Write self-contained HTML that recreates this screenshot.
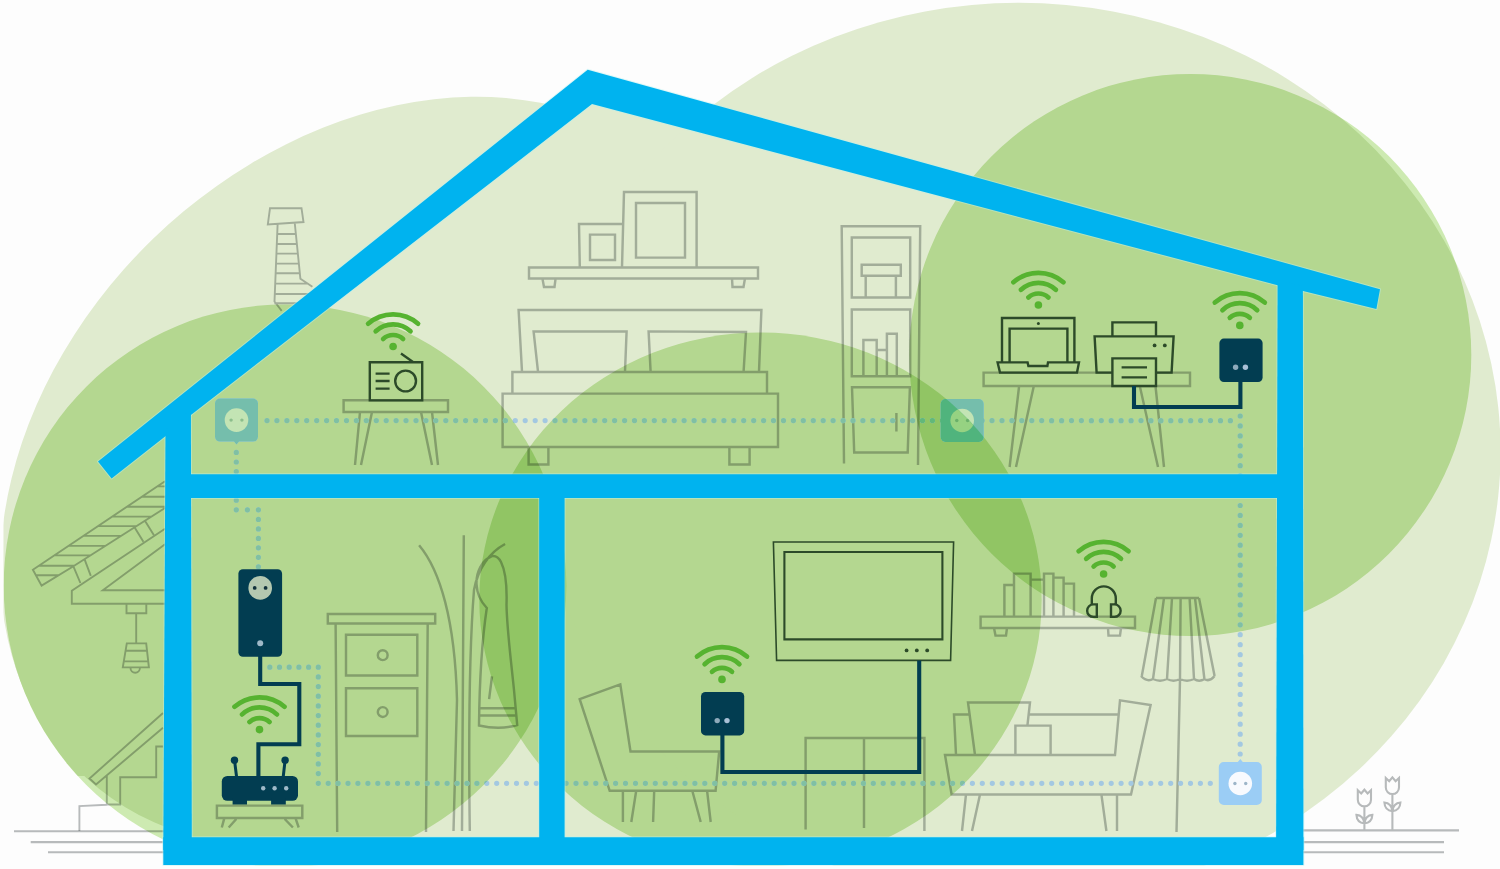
<!DOCTYPE html>
<html lang="en"><head><meta charset="utf-8"><title>Home network illustration</title>
<style>
html,body{margin:0;padding:0;background:#fdfdfd}
body{width:1500px;height:869px}
svg{display:block;isolation:isolate}
</style></head>
<body>
<svg width="1500" height="869" viewBox="0 0 1500 869">
<rect x="0" y="0" width="1500" height="869" fill="#fdfdfd"/>
<g id="bg">
<defs><clipPath id="cCanvas"><rect x="3.5" y="0" width="1497" height="865.6"/></clipPath><clipPath id="cSl"><rect x="0" y="540" width="92" height="236"/></clipPath></defs><g clip-path="url(#cCanvas)">
<ellipse cx="379.2" cy="472.7" rx="423.2" ry="325.3" transform="rotate(135.9 379.2 472.7)" fill="#e0ebcf"/>
<circle cx="285" cy="585.8" r="281.3" fill="#e0ebcf" clip-path="url(#cSl)"/>
<polygon points="177.0,428.0 589.5,88.0 730.0,125.0 730.0,486.0 800.0,486.0 800.0,852.0 177.0,852.0" fill="#e0ebcf"/>
<ellipse cx="1019" cy="451.6" rx="481.6" ry="448.8" fill="#e0ebcf"/>
<circle cx="285" cy="585.8" r="281.3" fill="#cdeab1" style="mix-blend-mode:multiply"/>
<ellipse cx="760.5" cy="599.5" rx="281.2" ry="267" fill="#cdeab1" style="mix-blend-mode:multiply"/>
<circle cx="1190.3" cy="355" r="281" fill="#cdeab1" style="mix-blend-mode:multiply"/>
</g>
</g>
<g id="gray">
<path d="M270.0 208.2 L301.5 208.2 L303.5 222.0 L267.8 224.5Z M277.6 224.5 L274.5 301.5 L281.7 310.8 M294.8 223.5 L300.4 278.8 L312.4 286.8 M277.2 234.0L295.9 234.0 M276.8 244.0L296.9 244.0 M276.4 253.6L297.8 253.6 M276.0 263.6L298.9 263.6 M275.6 273.3L299.8 273.3 M275.2 283.6L307.6 283.6 M274.8 294.0L310.1 294.0 M274.4 303.3L298.5 303.3 M165.0 481.2 L32.9 569.8 L41.6 585.6 L71.8 567.3 L165.0 508.0 M157.2 486.4L165.0 486.4 M141.7 496.8L165.0 496.8 M126.8 506.8L165.0 506.8 M112.2 516.6L151.5 516.6 M98.1 526.1L136.6 526.1 M83.4 535.9L121.2 535.9 M68.5 545.9L105.4 545.9 M54.4 555.4L90.5 555.4 M38.9 565.8L74.2 565.8 M35.9 575.3L58.6 575.3 M73.5 566.7L80.4 583.0 M84.7 559.7L90.8 575.8 M134.8 527.8L143.4 541.8 M145.1 520.9L153.8 535.0 M165.0 528.7 L71.8 590.8 L71.8 603.8 L165.0 603.8 M165.0 590.3 L102.8 590.3 L165.0 544.2 M126.5 603.8H146.3V613.2H126.5Z M136.2 613.2L136.2 643.4 M126.8 643.4 L146.2 643.4 L148.9 667.4 L122.8 667.4Z M125.6 650.7L147.2 650.7 M124.0 661.4L148.2 661.4 M130.5 668A4.7 4.7 0 0 0 139.9 668 M163.0 713.0 L89.5 778.5 L96.0 784.5 L163.0 727.8 M163.0 746.5 L156.2 746.5 L156.2 777.2 L120.2 777.2 L120.2 804.5 L106.8 804.5 L106.8 775.0 M106.8 804.8 L79.4 806.1 L79.4 831.0" fill="none" stroke="#b9bcbd" stroke-width="1.9" stroke-linejoin="miter" style="mix-blend-mode:multiply"/><path d="M14.0 831.3L165.0 831.3 M30.7 842.1L165.0 842.1 M48.0 852.2L165.0 852.2 M1303.0 830.4L1459.0 830.4 M1303.0 842.1L1444.0 842.1 M1303.0 852.2L1444.0 852.2 M1357.8 790.3L1361.2 793.5L1364.4 789.7L1367.6 793.5L1371.0 790.3V799.8A6.6 6.6 0 0 1 1357.8 799.8Z M1364.4 806.5L1364.4 830.0 M1364.4 823.4Q1356.8 822.8 1356.4 814.8Q1363.4 815.4 1364.4 823.4Q1372.0 822.8 1372.4 814.8Q1365.4 815.4 1364.4 823.4 M1385.8 778.0L1389.2 781.2L1392.4 777.4L1395.6 781.2L1399.0 778.0V787.5A6.6 6.6 0 0 1 1385.8 787.5Z M1392.4 794.2L1392.4 830.0 M1392.4 811.1Q1384.8 810.5 1384.4 802.5Q1391.4 803.1 1392.4 811.1Q1400.0 810.5 1400.4 802.5Q1393.4 803.1 1392.4 811.1" fill="none" stroke="#b9bcbd" stroke-width="2.1" style="mix-blend-mode:multiply"/><path d="M343.6 400.2H448.0V412.0H343.6Z M360.0 412.0L355.0 465.0 M372.0 412.0L361.0 465.0 M421.0 412.0L432.0 465.0 M432.0 412.0L438.0 465.0 M529.0 267.4H758.0V278.4H529.0Z M542.4 278.4 L544.0 287.0 L554.5 287.0 L555.6 278.4 M732.0 278.4 L732.5 287.0 L743.5 287.0 L745.0 278.4 M622.0 267.4 L624.0 192.0 L696.6 192.0 L696.6 267.4 M636.0 203.0H685.0V257.6H636.0Z M579.8 267.4 L579.0 224.0 L623.0 224.0 M590.0 234.6H615.0V260.0H590.0Z M522.0 371.6 L518.6 310.0 L761.4 310.0 L759.0 371.6 M538.0 371.6 L533.6 331.4 L626.6 331.4 L625.0 371.6 M650.6 371.6 L648.6 331.4 L746.0 332.0 L743.6 371.6 M512.4 372.0H767.0V393.6H512.4Z M502.6 393.6H778.0V447.0H502.6Z M528.6 447.0 L528.6 464.4 L548.4 464.4 L548.4 447.0 M729.4 447.0 L729.4 464.4 L749.6 464.4 L749.6 447.0 M844.0 463.5 L841.7 226.3 L920.2 226.3 L918.0 465.0 M851.8 237.4H910.2V297.5H851.8Z M861.7 264.7H900.8V275.7H861.7Z M865.7 275.7 L865.7 297.0 M895.9 275.7L895.9 297.0 M851.8 309.5H910.2V376.3H851.8Z M863.4 376.3 L863.4 340.0 L876.7 340.0 L876.7 376.3 M876.7 349.9 L886.9 349.9 M886.9 376.3 L886.9 333.7 L896.8 333.7 L896.8 376.3 M852.0 387.3 L909.9 387.3 L907.7 452.4 L854.2 452.4Z M896.4 412.9L896.4 431.6 M983.6 372.6H1190.0V386.0H983.6Z M1019.0 387.0L1009.6 467.0 M1033.6 387.0L1016.0 467.0 M1140.0 387.0L1158.0 467.0 M1155.6 387.0L1164.0 467.0" fill="none" stroke="#b9bcbd" stroke-width="2.45" stroke-linejoin="miter" style="mix-blend-mode:multiply"/>
</g>
<g id="gray2">
<path d="M216.9 805.6H302.3V817.9H216.9Z M224.4 817.9L221.8 827.5 M236.3 819.0L228.7 827.5 M284.7 819.0L292.9 827.5 M295.4 817.9L298.7 827.5 M327.8 614.0H435.2V623.5H327.8Z M335.6 623.5L337.2 832.0 M427.7 623.5L426.0 832.0 M346.0 634.8H417.3V675.5H346.0Z M346.0 688.2H417.3V736.0H346.0Z M387.6 655.2A4.9 4.9 0 1 0 377.8 655.2A4.9 4.9 0 1 0 387.6 655.2Z M387.6 712A4.9 4.9 0 1 0 377.8 712A4.9 4.9 0 1 0 387.6 712Z M463.8 535.3L462.0 831.0 M419.1 545.2C440 570 455 620 457 700L453.5 831 M505.1 544C490 552 478 568 474 590C470 640 468 700 469.8 831 M492 556C482 560 476 572 476.5 584C477 594 481 602 486.8 608C482 640 479.5 680 479 725.5C492 728.5 506 728.5 517.2 725L514 690C511 660 507 630 506.5 605C507 590 506 572 501 562C498.5 557 495.5 555.5 492 556Z M479.2 708.2L516.0 708.2 M479.1 715.5L516.6 715.5 M492.0 676.4L489.1 699.1 M579.7 699.2 L620.3 684.3 L630.5 751.4 L719.2 751.4 L715.6 790.8 L609.7 790.8Z M622.9 790.8L622.9 822.0 M636.2 790.8L631.3 822.0 M654.2 790.8L653.1 822.0 M692.3 790.8L700.7 822.0 M707.1 790.8L710.7 822.0 M805.6 829.5 L805.6 738.0 L924.4 738.0 L924.4 831.0 M864.0 738.0L864.0 828.0 M980.6 616.6H1135.0V628.0H980.6Z M994.0 628.0 L995.5 635.6 L1006.0 635.6 L1007.0 628.0 M1108.0 628.0 L1108.5 635.6 L1120.0 635.6 L1121.0 628.0 M1004.4 616.6 L1004.4 585.0 L1014.0 585.0 L1014.0 616.6 M1014.0 616.6 L1014.0 573.6 L1030.6 573.6 L1030.6 616.6 M1030.6 616.6 L1030.6 579.6 L1044.0 579.6 L1044.0 616.6 M1044.0 616.6 L1044.0 573.6 L1053.4 573.6 L1053.4 616.6 M1053.4 616.6 L1053.4 577.6 L1063.6 577.6 L1063.6 616.6 M1063.6 616.6 L1063.6 583.6 L1074.0 583.6 L1074.0 616.6 M945.0 755.0 L951.6 794.4 L1131.0 794.4 L1150.6 705.0 L1120.0 700.4 L1115.0 755.0Z M1028.0 714.4L1118.6 714.4 M975.0 755.0 L968.0 702.4 L1030.0 702.4 L1027.4 725.6 M956.0 755.0 L954.0 714.4 L969.6 714.4 M1015.4 725.6H1050.6V755.0H1015.4Z M966.0 794.4L962.0 831.0 M980.0 794.4L972.0 831.0 M1101.4 794.4L1106.4 831.0 M1117.0 794.4L1117.0 831.0 M1156.0 598.0L1199.0 598.0 M1156.0 598.0L1141.8 676.0 M1199.0 598.0L1214.6 676.0 M1164.0 598.0L1153.0 679.0 M1172.0 598.0L1167.0 679.0 M1180.6 598.0L1180.0 679.0 M1189.6 598.0L1194.0 679.0 M1195.0 598.0L1204.4 679.0 M1141 676Q1147.0 682.3 1153 679Q1160.0 682.3 1167 679Q1173.5 682.3 1180 679Q1187.0 682.3 1194 679Q1199.2 682.3 1204.4 679Q1209.5 682.3 1214.6 676 M1180.0 680.0L1176.5 832.0" fill="none" stroke="#b9bcbd" stroke-width="2.45" stroke-linejoin="miter" style="mix-blend-mode:multiply"/>
</g>
<g id="dots">
<defs><clipPath id="cDark"><circle cx="285" cy="585.8" r="281.3"/><ellipse cx="760.5" cy="599.5" rx="281.2" ry="267"/><circle cx="1190.3" cy="355" r="281"/></clipPath><clipPath id="cCen"><ellipse cx="760.5" cy="599.5" rx="281.2" ry="267"/></clipPath><clipPath id="cLR"><circle cx="285" cy="585.8" r="281.3"/><circle cx="1190.3" cy="355" r="281"/></clipPath></defs>
<g><path d="M264.4 420.6a2.6 2.6 0 1 0 5.2 0a2.6 2.6 0 1 0 -5.2 0ZM274.3 420.6a2.6 2.6 0 1 0 5.2 0a2.6 2.6 0 1 0 -5.2 0ZM284.3 420.6a2.6 2.6 0 1 0 5.2 0a2.6 2.6 0 1 0 -5.2 0ZM294.2 420.6a2.6 2.6 0 1 0 5.2 0a2.6 2.6 0 1 0 -5.2 0ZM304.1 420.6a2.6 2.6 0 1 0 5.2 0a2.6 2.6 0 1 0 -5.2 0ZM314.1 420.6a2.6 2.6 0 1 0 5.2 0a2.6 2.6 0 1 0 -5.2 0ZM324.0 420.6a2.6 2.6 0 1 0 5.2 0a2.6 2.6 0 1 0 -5.2 0ZM333.9 420.6a2.6 2.6 0 1 0 5.2 0a2.6 2.6 0 1 0 -5.2 0ZM343.9 420.6a2.6 2.6 0 1 0 5.2 0a2.6 2.6 0 1 0 -5.2 0ZM353.8 420.6a2.6 2.6 0 1 0 5.2 0a2.6 2.6 0 1 0 -5.2 0ZM363.7 420.6a2.6 2.6 0 1 0 5.2 0a2.6 2.6 0 1 0 -5.2 0ZM373.7 420.6a2.6 2.6 0 1 0 5.2 0a2.6 2.6 0 1 0 -5.2 0ZM383.6 420.6a2.6 2.6 0 1 0 5.2 0a2.6 2.6 0 1 0 -5.2 0ZM393.5 420.6a2.6 2.6 0 1 0 5.2 0a2.6 2.6 0 1 0 -5.2 0ZM403.4 420.6a2.6 2.6 0 1 0 5.2 0a2.6 2.6 0 1 0 -5.2 0ZM413.4 420.6a2.6 2.6 0 1 0 5.2 0a2.6 2.6 0 1 0 -5.2 0ZM423.3 420.6a2.6 2.6 0 1 0 5.2 0a2.6 2.6 0 1 0 -5.2 0ZM433.2 420.6a2.6 2.6 0 1 0 5.2 0a2.6 2.6 0 1 0 -5.2 0ZM443.2 420.6a2.6 2.6 0 1 0 5.2 0a2.6 2.6 0 1 0 -5.2 0ZM453.1 420.6a2.6 2.6 0 1 0 5.2 0a2.6 2.6 0 1 0 -5.2 0ZM463.0 420.6a2.6 2.6 0 1 0 5.2 0a2.6 2.6 0 1 0 -5.2 0ZM473.0 420.6a2.6 2.6 0 1 0 5.2 0a2.6 2.6 0 1 0 -5.2 0ZM482.9 420.6a2.6 2.6 0 1 0 5.2 0a2.6 2.6 0 1 0 -5.2 0ZM492.8 420.6a2.6 2.6 0 1 0 5.2 0a2.6 2.6 0 1 0 -5.2 0ZM502.8 420.6a2.6 2.6 0 1 0 5.2 0a2.6 2.6 0 1 0 -5.2 0ZM512.7 420.6a2.6 2.6 0 1 0 5.2 0a2.6 2.6 0 1 0 -5.2 0ZM522.6 420.6a2.6 2.6 0 1 0 5.2 0a2.6 2.6 0 1 0 -5.2 0ZM532.6 420.6a2.6 2.6 0 1 0 5.2 0a2.6 2.6 0 1 0 -5.2 0ZM542.5 420.6a2.6 2.6 0 1 0 5.2 0a2.6 2.6 0 1 0 -5.2 0ZM552.4 420.6a2.6 2.6 0 1 0 5.2 0a2.6 2.6 0 1 0 -5.2 0ZM562.4 420.6a2.6 2.6 0 1 0 5.2 0a2.6 2.6 0 1 0 -5.2 0ZM572.3 420.6a2.6 2.6 0 1 0 5.2 0a2.6 2.6 0 1 0 -5.2 0ZM582.2 420.6a2.6 2.6 0 1 0 5.2 0a2.6 2.6 0 1 0 -5.2 0ZM592.2 420.6a2.6 2.6 0 1 0 5.2 0a2.6 2.6 0 1 0 -5.2 0ZM602.1 420.6a2.6 2.6 0 1 0 5.2 0a2.6 2.6 0 1 0 -5.2 0ZM612.0 420.6a2.6 2.6 0 1 0 5.2 0a2.6 2.6 0 1 0 -5.2 0ZM622.0 420.6a2.6 2.6 0 1 0 5.2 0a2.6 2.6 0 1 0 -5.2 0ZM631.9 420.6a2.6 2.6 0 1 0 5.2 0a2.6 2.6 0 1 0 -5.2 0ZM641.8 420.6a2.6 2.6 0 1 0 5.2 0a2.6 2.6 0 1 0 -5.2 0ZM651.7 420.6a2.6 2.6 0 1 0 5.2 0a2.6 2.6 0 1 0 -5.2 0ZM661.7 420.6a2.6 2.6 0 1 0 5.2 0a2.6 2.6 0 1 0 -5.2 0ZM671.6 420.6a2.6 2.6 0 1 0 5.2 0a2.6 2.6 0 1 0 -5.2 0ZM681.5 420.6a2.6 2.6 0 1 0 5.2 0a2.6 2.6 0 1 0 -5.2 0ZM691.5 420.6a2.6 2.6 0 1 0 5.2 0a2.6 2.6 0 1 0 -5.2 0ZM701.4 420.6a2.6 2.6 0 1 0 5.2 0a2.6 2.6 0 1 0 -5.2 0ZM711.3 420.6a2.6 2.6 0 1 0 5.2 0a2.6 2.6 0 1 0 -5.2 0ZM721.3 420.6a2.6 2.6 0 1 0 5.2 0a2.6 2.6 0 1 0 -5.2 0ZM731.2 420.6a2.6 2.6 0 1 0 5.2 0a2.6 2.6 0 1 0 -5.2 0ZM741.1 420.6a2.6 2.6 0 1 0 5.2 0a2.6 2.6 0 1 0 -5.2 0ZM751.1 420.6a2.6 2.6 0 1 0 5.2 0a2.6 2.6 0 1 0 -5.2 0ZM761.0 420.6a2.6 2.6 0 1 0 5.2 0a2.6 2.6 0 1 0 -5.2 0ZM770.9 420.6a2.6 2.6 0 1 0 5.2 0a2.6 2.6 0 1 0 -5.2 0ZM780.9 420.6a2.6 2.6 0 1 0 5.2 0a2.6 2.6 0 1 0 -5.2 0ZM790.8 420.6a2.6 2.6 0 1 0 5.2 0a2.6 2.6 0 1 0 -5.2 0ZM800.7 420.6a2.6 2.6 0 1 0 5.2 0a2.6 2.6 0 1 0 -5.2 0ZM810.7 420.6a2.6 2.6 0 1 0 5.2 0a2.6 2.6 0 1 0 -5.2 0ZM820.6 420.6a2.6 2.6 0 1 0 5.2 0a2.6 2.6 0 1 0 -5.2 0ZM830.5 420.6a2.6 2.6 0 1 0 5.2 0a2.6 2.6 0 1 0 -5.2 0ZM840.5 420.6a2.6 2.6 0 1 0 5.2 0a2.6 2.6 0 1 0 -5.2 0ZM850.4 420.6a2.6 2.6 0 1 0 5.2 0a2.6 2.6 0 1 0 -5.2 0ZM860.3 420.6a2.6 2.6 0 1 0 5.2 0a2.6 2.6 0 1 0 -5.2 0ZM870.2 420.6a2.6 2.6 0 1 0 5.2 0a2.6 2.6 0 1 0 -5.2 0ZM880.2 420.6a2.6 2.6 0 1 0 5.2 0a2.6 2.6 0 1 0 -5.2 0ZM890.1 420.6a2.6 2.6 0 1 0 5.2 0a2.6 2.6 0 1 0 -5.2 0ZM900.0 420.6a2.6 2.6 0 1 0 5.2 0a2.6 2.6 0 1 0 -5.2 0ZM910.0 420.6a2.6 2.6 0 1 0 5.2 0a2.6 2.6 0 1 0 -5.2 0ZM919.9 420.6a2.6 2.6 0 1 0 5.2 0a2.6 2.6 0 1 0 -5.2 0ZM929.8 420.6a2.6 2.6 0 1 0 5.2 0a2.6 2.6 0 1 0 -5.2 0ZM939.8 420.6a2.6 2.6 0 1 0 5.2 0a2.6 2.6 0 1 0 -5.2 0ZM949.7 420.6a2.6 2.6 0 1 0 5.2 0a2.6 2.6 0 1 0 -5.2 0ZM959.6 420.6a2.6 2.6 0 1 0 5.2 0a2.6 2.6 0 1 0 -5.2 0ZM969.6 420.6a2.6 2.6 0 1 0 5.2 0a2.6 2.6 0 1 0 -5.2 0ZM979.5 420.6a2.6 2.6 0 1 0 5.2 0a2.6 2.6 0 1 0 -5.2 0ZM989.4 420.6a2.6 2.6 0 1 0 5.2 0a2.6 2.6 0 1 0 -5.2 0ZM999.4 420.6a2.6 2.6 0 1 0 5.2 0a2.6 2.6 0 1 0 -5.2 0ZM1009.3 420.6a2.6 2.6 0 1 0 5.2 0a2.6 2.6 0 1 0 -5.2 0ZM1019.2 420.6a2.6 2.6 0 1 0 5.2 0a2.6 2.6 0 1 0 -5.2 0ZM1029.2 420.6a2.6 2.6 0 1 0 5.2 0a2.6 2.6 0 1 0 -5.2 0ZM1039.1 420.6a2.6 2.6 0 1 0 5.2 0a2.6 2.6 0 1 0 -5.2 0ZM1049.0 420.6a2.6 2.6 0 1 0 5.2 0a2.6 2.6 0 1 0 -5.2 0ZM1059.0 420.6a2.6 2.6 0 1 0 5.2 0a2.6 2.6 0 1 0 -5.2 0ZM1068.9 420.6a2.6 2.6 0 1 0 5.2 0a2.6 2.6 0 1 0 -5.2 0ZM1078.8 420.6a2.6 2.6 0 1 0 5.2 0a2.6 2.6 0 1 0 -5.2 0ZM1088.8 420.6a2.6 2.6 0 1 0 5.2 0a2.6 2.6 0 1 0 -5.2 0ZM1098.7 420.6a2.6 2.6 0 1 0 5.2 0a2.6 2.6 0 1 0 -5.2 0ZM1108.6 420.6a2.6 2.6 0 1 0 5.2 0a2.6 2.6 0 1 0 -5.2 0ZM1118.5 420.6a2.6 2.6 0 1 0 5.2 0a2.6 2.6 0 1 0 -5.2 0ZM1128.5 420.6a2.6 2.6 0 1 0 5.2 0a2.6 2.6 0 1 0 -5.2 0ZM1138.4 420.6a2.6 2.6 0 1 0 5.2 0a2.6 2.6 0 1 0 -5.2 0ZM1148.3 420.6a2.6 2.6 0 1 0 5.2 0a2.6 2.6 0 1 0 -5.2 0ZM1158.3 420.6a2.6 2.6 0 1 0 5.2 0a2.6 2.6 0 1 0 -5.2 0ZM1168.2 420.6a2.6 2.6 0 1 0 5.2 0a2.6 2.6 0 1 0 -5.2 0ZM1178.1 420.6a2.6 2.6 0 1 0 5.2 0a2.6 2.6 0 1 0 -5.2 0ZM1188.1 420.6a2.6 2.6 0 1 0 5.2 0a2.6 2.6 0 1 0 -5.2 0ZM1198.0 420.6a2.6 2.6 0 1 0 5.2 0a2.6 2.6 0 1 0 -5.2 0ZM1207.9 420.6a2.6 2.6 0 1 0 5.2 0a2.6 2.6 0 1 0 -5.2 0ZM1217.9 420.6a2.6 2.6 0 1 0 5.2 0a2.6 2.6 0 1 0 -5.2 0ZM1227.8 420.6a2.6 2.6 0 1 0 5.2 0a2.6 2.6 0 1 0 -5.2 0ZM1237.6 416.0a2.6 2.6 0 1 0 5.2 0a2.6 2.6 0 1 0 -5.2 0ZM1237.6 425.9a2.6 2.6 0 1 0 5.2 0a2.6 2.6 0 1 0 -5.2 0ZM1237.6 435.9a2.6 2.6 0 1 0 5.2 0a2.6 2.6 0 1 0 -5.2 0ZM1237.6 445.8a2.6 2.6 0 1 0 5.2 0a2.6 2.6 0 1 0 -5.2 0ZM1237.6 455.8a2.6 2.6 0 1 0 5.2 0a2.6 2.6 0 1 0 -5.2 0ZM1237.6 465.7a2.6 2.6 0 1 0 5.2 0a2.6 2.6 0 1 0 -5.2 0ZM1237.6 475.6a2.6 2.6 0 1 0 5.2 0a2.6 2.6 0 1 0 -5.2 0ZM1237.6 485.6a2.6 2.6 0 1 0 5.2 0a2.6 2.6 0 1 0 -5.2 0ZM1237.6 495.5a2.6 2.6 0 1 0 5.2 0a2.6 2.6 0 1 0 -5.2 0ZM1237.6 505.5a2.6 2.6 0 1 0 5.2 0a2.6 2.6 0 1 0 -5.2 0ZM1237.6 515.4a2.6 2.6 0 1 0 5.2 0a2.6 2.6 0 1 0 -5.2 0ZM1237.6 525.4a2.6 2.6 0 1 0 5.2 0a2.6 2.6 0 1 0 -5.2 0ZM1237.6 535.3a2.6 2.6 0 1 0 5.2 0a2.6 2.6 0 1 0 -5.2 0ZM1237.6 545.2a2.6 2.6 0 1 0 5.2 0a2.6 2.6 0 1 0 -5.2 0ZM1237.6 555.2a2.6 2.6 0 1 0 5.2 0a2.6 2.6 0 1 0 -5.2 0ZM1237.6 565.1a2.6 2.6 0 1 0 5.2 0a2.6 2.6 0 1 0 -5.2 0ZM1237.6 575.1a2.6 2.6 0 1 0 5.2 0a2.6 2.6 0 1 0 -5.2 0ZM1237.6 585.0a2.6 2.6 0 1 0 5.2 0a2.6 2.6 0 1 0 -5.2 0ZM1237.6 594.9a2.6 2.6 0 1 0 5.2 0a2.6 2.6 0 1 0 -5.2 0ZM1237.6 604.9a2.6 2.6 0 1 0 5.2 0a2.6 2.6 0 1 0 -5.2 0ZM1237.6 614.8a2.6 2.6 0 1 0 5.2 0a2.6 2.6 0 1 0 -5.2 0ZM1237.6 624.8a2.6 2.6 0 1 0 5.2 0a2.6 2.6 0 1 0 -5.2 0ZM1237.6 634.7a2.6 2.6 0 1 0 5.2 0a2.6 2.6 0 1 0 -5.2 0ZM1237.6 644.6a2.6 2.6 0 1 0 5.2 0a2.6 2.6 0 1 0 -5.2 0ZM1237.6 654.6a2.6 2.6 0 1 0 5.2 0a2.6 2.6 0 1 0 -5.2 0ZM1237.6 664.5a2.6 2.6 0 1 0 5.2 0a2.6 2.6 0 1 0 -5.2 0ZM1237.6 674.5a2.6 2.6 0 1 0 5.2 0a2.6 2.6 0 1 0 -5.2 0ZM1237.6 684.4a2.6 2.6 0 1 0 5.2 0a2.6 2.6 0 1 0 -5.2 0ZM1237.6 694.4a2.6 2.6 0 1 0 5.2 0a2.6 2.6 0 1 0 -5.2 0ZM1237.6 704.3a2.6 2.6 0 1 0 5.2 0a2.6 2.6 0 1 0 -5.2 0ZM1237.6 714.2a2.6 2.6 0 1 0 5.2 0a2.6 2.6 0 1 0 -5.2 0ZM1237.6 724.2a2.6 2.6 0 1 0 5.2 0a2.6 2.6 0 1 0 -5.2 0ZM1237.6 734.1a2.6 2.6 0 1 0 5.2 0a2.6 2.6 0 1 0 -5.2 0ZM1237.6 744.1a2.6 2.6 0 1 0 5.2 0a2.6 2.6 0 1 0 -5.2 0ZM1237.6 754.0a2.6 2.6 0 1 0 5.2 0a2.6 2.6 0 1 0 -5.2 0ZM315.7 783.3a2.6 2.6 0 1 0 5.2 0a2.6 2.6 0 1 0 -5.2 0ZM325.6 783.3a2.6 2.6 0 1 0 5.2 0a2.6 2.6 0 1 0 -5.2 0ZM335.5 783.3a2.6 2.6 0 1 0 5.2 0a2.6 2.6 0 1 0 -5.2 0ZM345.4 783.3a2.6 2.6 0 1 0 5.2 0a2.6 2.6 0 1 0 -5.2 0ZM355.3 783.3a2.6 2.6 0 1 0 5.2 0a2.6 2.6 0 1 0 -5.2 0ZM365.3 783.3a2.6 2.6 0 1 0 5.2 0a2.6 2.6 0 1 0 -5.2 0ZM375.2 783.3a2.6 2.6 0 1 0 5.2 0a2.6 2.6 0 1 0 -5.2 0ZM385.1 783.3a2.6 2.6 0 1 0 5.2 0a2.6 2.6 0 1 0 -5.2 0ZM395.0 783.3a2.6 2.6 0 1 0 5.2 0a2.6 2.6 0 1 0 -5.2 0ZM404.9 783.3a2.6 2.6 0 1 0 5.2 0a2.6 2.6 0 1 0 -5.2 0ZM414.8 783.3a2.6 2.6 0 1 0 5.2 0a2.6 2.6 0 1 0 -5.2 0ZM424.7 783.3a2.6 2.6 0 1 0 5.2 0a2.6 2.6 0 1 0 -5.2 0ZM434.6 783.3a2.6 2.6 0 1 0 5.2 0a2.6 2.6 0 1 0 -5.2 0ZM444.5 783.3a2.6 2.6 0 1 0 5.2 0a2.6 2.6 0 1 0 -5.2 0ZM454.5 783.3a2.6 2.6 0 1 0 5.2 0a2.6 2.6 0 1 0 -5.2 0ZM464.4 783.3a2.6 2.6 0 1 0 5.2 0a2.6 2.6 0 1 0 -5.2 0ZM474.3 783.3a2.6 2.6 0 1 0 5.2 0a2.6 2.6 0 1 0 -5.2 0ZM484.2 783.3a2.6 2.6 0 1 0 5.2 0a2.6 2.6 0 1 0 -5.2 0ZM494.1 783.3a2.6 2.6 0 1 0 5.2 0a2.6 2.6 0 1 0 -5.2 0ZM504.0 783.3a2.6 2.6 0 1 0 5.2 0a2.6 2.6 0 1 0 -5.2 0ZM513.9 783.3a2.6 2.6 0 1 0 5.2 0a2.6 2.6 0 1 0 -5.2 0ZM523.8 783.3a2.6 2.6 0 1 0 5.2 0a2.6 2.6 0 1 0 -5.2 0ZM533.7 783.3a2.6 2.6 0 1 0 5.2 0a2.6 2.6 0 1 0 -5.2 0ZM543.7 783.3a2.6 2.6 0 1 0 5.2 0a2.6 2.6 0 1 0 -5.2 0ZM553.6 783.3a2.6 2.6 0 1 0 5.2 0a2.6 2.6 0 1 0 -5.2 0ZM563.5 783.3a2.6 2.6 0 1 0 5.2 0a2.6 2.6 0 1 0 -5.2 0ZM573.4 783.3a2.6 2.6 0 1 0 5.2 0a2.6 2.6 0 1 0 -5.2 0ZM583.3 783.3a2.6 2.6 0 1 0 5.2 0a2.6 2.6 0 1 0 -5.2 0ZM593.2 783.3a2.6 2.6 0 1 0 5.2 0a2.6 2.6 0 1 0 -5.2 0ZM603.1 783.3a2.6 2.6 0 1 0 5.2 0a2.6 2.6 0 1 0 -5.2 0ZM613.0 783.3a2.6 2.6 0 1 0 5.2 0a2.6 2.6 0 1 0 -5.2 0ZM622.9 783.3a2.6 2.6 0 1 0 5.2 0a2.6 2.6 0 1 0 -5.2 0ZM632.9 783.3a2.6 2.6 0 1 0 5.2 0a2.6 2.6 0 1 0 -5.2 0ZM642.8 783.3a2.6 2.6 0 1 0 5.2 0a2.6 2.6 0 1 0 -5.2 0ZM652.7 783.3a2.6 2.6 0 1 0 5.2 0a2.6 2.6 0 1 0 -5.2 0ZM662.6 783.3a2.6 2.6 0 1 0 5.2 0a2.6 2.6 0 1 0 -5.2 0ZM672.5 783.3a2.6 2.6 0 1 0 5.2 0a2.6 2.6 0 1 0 -5.2 0ZM682.4 783.3a2.6 2.6 0 1 0 5.2 0a2.6 2.6 0 1 0 -5.2 0ZM692.3 783.3a2.6 2.6 0 1 0 5.2 0a2.6 2.6 0 1 0 -5.2 0ZM702.2 783.3a2.6 2.6 0 1 0 5.2 0a2.6 2.6 0 1 0 -5.2 0ZM712.1 783.3a2.6 2.6 0 1 0 5.2 0a2.6 2.6 0 1 0 -5.2 0ZM722.1 783.3a2.6 2.6 0 1 0 5.2 0a2.6 2.6 0 1 0 -5.2 0ZM732.0 783.3a2.6 2.6 0 1 0 5.2 0a2.6 2.6 0 1 0 -5.2 0ZM741.9 783.3a2.6 2.6 0 1 0 5.2 0a2.6 2.6 0 1 0 -5.2 0ZM751.8 783.3a2.6 2.6 0 1 0 5.2 0a2.6 2.6 0 1 0 -5.2 0ZM761.7 783.3a2.6 2.6 0 1 0 5.2 0a2.6 2.6 0 1 0 -5.2 0ZM771.6 783.3a2.6 2.6 0 1 0 5.2 0a2.6 2.6 0 1 0 -5.2 0ZM781.5 783.3a2.6 2.6 0 1 0 5.2 0a2.6 2.6 0 1 0 -5.2 0ZM791.4 783.3a2.6 2.6 0 1 0 5.2 0a2.6 2.6 0 1 0 -5.2 0ZM801.3 783.3a2.6 2.6 0 1 0 5.2 0a2.6 2.6 0 1 0 -5.2 0ZM811.3 783.3a2.6 2.6 0 1 0 5.2 0a2.6 2.6 0 1 0 -5.2 0ZM821.2 783.3a2.6 2.6 0 1 0 5.2 0a2.6 2.6 0 1 0 -5.2 0ZM831.1 783.3a2.6 2.6 0 1 0 5.2 0a2.6 2.6 0 1 0 -5.2 0ZM841.0 783.3a2.6 2.6 0 1 0 5.2 0a2.6 2.6 0 1 0 -5.2 0ZM850.9 783.3a2.6 2.6 0 1 0 5.2 0a2.6 2.6 0 1 0 -5.2 0ZM860.8 783.3a2.6 2.6 0 1 0 5.2 0a2.6 2.6 0 1 0 -5.2 0ZM870.7 783.3a2.6 2.6 0 1 0 5.2 0a2.6 2.6 0 1 0 -5.2 0ZM880.6 783.3a2.6 2.6 0 1 0 5.2 0a2.6 2.6 0 1 0 -5.2 0ZM890.5 783.3a2.6 2.6 0 1 0 5.2 0a2.6 2.6 0 1 0 -5.2 0ZM900.5 783.3a2.6 2.6 0 1 0 5.2 0a2.6 2.6 0 1 0 -5.2 0ZM910.4 783.3a2.6 2.6 0 1 0 5.2 0a2.6 2.6 0 1 0 -5.2 0ZM920.3 783.3a2.6 2.6 0 1 0 5.2 0a2.6 2.6 0 1 0 -5.2 0ZM930.2 783.3a2.6 2.6 0 1 0 5.2 0a2.6 2.6 0 1 0 -5.2 0ZM940.1 783.3a2.6 2.6 0 1 0 5.2 0a2.6 2.6 0 1 0 -5.2 0ZM950.0 783.3a2.6 2.6 0 1 0 5.2 0a2.6 2.6 0 1 0 -5.2 0ZM959.9 783.3a2.6 2.6 0 1 0 5.2 0a2.6 2.6 0 1 0 -5.2 0ZM969.8 783.3a2.6 2.6 0 1 0 5.2 0a2.6 2.6 0 1 0 -5.2 0ZM979.7 783.3a2.6 2.6 0 1 0 5.2 0a2.6 2.6 0 1 0 -5.2 0ZM989.7 783.3a2.6 2.6 0 1 0 5.2 0a2.6 2.6 0 1 0 -5.2 0ZM999.6 783.3a2.6 2.6 0 1 0 5.2 0a2.6 2.6 0 1 0 -5.2 0ZM1009.5 783.3a2.6 2.6 0 1 0 5.2 0a2.6 2.6 0 1 0 -5.2 0ZM1019.4 783.3a2.6 2.6 0 1 0 5.2 0a2.6 2.6 0 1 0 -5.2 0ZM1029.3 783.3a2.6 2.6 0 1 0 5.2 0a2.6 2.6 0 1 0 -5.2 0ZM1039.2 783.3a2.6 2.6 0 1 0 5.2 0a2.6 2.6 0 1 0 -5.2 0ZM1049.1 783.3a2.6 2.6 0 1 0 5.2 0a2.6 2.6 0 1 0 -5.2 0ZM1059.0 783.3a2.6 2.6 0 1 0 5.2 0a2.6 2.6 0 1 0 -5.2 0ZM1068.9 783.3a2.6 2.6 0 1 0 5.2 0a2.6 2.6 0 1 0 -5.2 0ZM1078.9 783.3a2.6 2.6 0 1 0 5.2 0a2.6 2.6 0 1 0 -5.2 0ZM1088.8 783.3a2.6 2.6 0 1 0 5.2 0a2.6 2.6 0 1 0 -5.2 0ZM1098.7 783.3a2.6 2.6 0 1 0 5.2 0a2.6 2.6 0 1 0 -5.2 0ZM1108.6 783.3a2.6 2.6 0 1 0 5.2 0a2.6 2.6 0 1 0 -5.2 0ZM1118.5 783.3a2.6 2.6 0 1 0 5.2 0a2.6 2.6 0 1 0 -5.2 0ZM1128.4 783.3a2.6 2.6 0 1 0 5.2 0a2.6 2.6 0 1 0 -5.2 0ZM1138.3 783.3a2.6 2.6 0 1 0 5.2 0a2.6 2.6 0 1 0 -5.2 0ZM1148.2 783.3a2.6 2.6 0 1 0 5.2 0a2.6 2.6 0 1 0 -5.2 0ZM1158.1 783.3a2.6 2.6 0 1 0 5.2 0a2.6 2.6 0 1 0 -5.2 0ZM1168.1 783.3a2.6 2.6 0 1 0 5.2 0a2.6 2.6 0 1 0 -5.2 0ZM1178.0 783.3a2.6 2.6 0 1 0 5.2 0a2.6 2.6 0 1 0 -5.2 0ZM1187.9 783.3a2.6 2.6 0 1 0 5.2 0a2.6 2.6 0 1 0 -5.2 0ZM1197.8 783.3a2.6 2.6 0 1 0 5.2 0a2.6 2.6 0 1 0 -5.2 0ZM1207.7 783.3a2.6 2.6 0 1 0 5.2 0a2.6 2.6 0 1 0 -5.2 0ZM233.7 452.4a2.6 2.6 0 1 0 5.2 0a2.6 2.6 0 1 0 -5.2 0ZM233.7 462.0a2.6 2.6 0 1 0 5.2 0a2.6 2.6 0 1 0 -5.2 0ZM233.7 471.5a2.6 2.6 0 1 0 5.2 0a2.6 2.6 0 1 0 -5.2 0ZM233.7 481.1a2.6 2.6 0 1 0 5.2 0a2.6 2.6 0 1 0 -5.2 0ZM233.7 490.7a2.6 2.6 0 1 0 5.2 0a2.6 2.6 0 1 0 -5.2 0ZM233.7 500.2a2.6 2.6 0 1 0 5.2 0a2.6 2.6 0 1 0 -5.2 0ZM233.7 509.8a2.6 2.6 0 1 0 5.2 0a2.6 2.6 0 1 0 -5.2 0ZM244.8 509.8a2.6 2.6 0 1 0 5.2 0a2.6 2.6 0 1 0 -5.2 0ZM255.8 509.8a2.6 2.6 0 1 0 5.2 0a2.6 2.6 0 1 0 -5.2 0ZM255.8 519.4a2.6 2.6 0 1 0 5.2 0a2.6 2.6 0 1 0 -5.2 0ZM255.8 528.9a2.6 2.6 0 1 0 5.2 0a2.6 2.6 0 1 0 -5.2 0ZM255.8 538.4a2.6 2.6 0 1 0 5.2 0a2.6 2.6 0 1 0 -5.2 0ZM255.8 547.8a2.6 2.6 0 1 0 5.2 0a2.6 2.6 0 1 0 -5.2 0ZM255.8 557.3a2.6 2.6 0 1 0 5.2 0a2.6 2.6 0 1 0 -5.2 0ZM255.8 566.8a2.6 2.6 0 1 0 5.2 0a2.6 2.6 0 1 0 -5.2 0ZM267.2 667.2a2.6 2.6 0 1 0 5.2 0a2.6 2.6 0 1 0 -5.2 0ZM276.9 667.2a2.6 2.6 0 1 0 5.2 0a2.6 2.6 0 1 0 -5.2 0ZM286.6 667.2a2.6 2.6 0 1 0 5.2 0a2.6 2.6 0 1 0 -5.2 0ZM296.3 667.2a2.6 2.6 0 1 0 5.2 0a2.6 2.6 0 1 0 -5.2 0ZM306.0 667.2a2.6 2.6 0 1 0 5.2 0a2.6 2.6 0 1 0 -5.2 0ZM315.7 667.2a2.6 2.6 0 1 0 5.2 0a2.6 2.6 0 1 0 -5.2 0ZM315.7 676.9a2.6 2.6 0 1 0 5.2 0a2.6 2.6 0 1 0 -5.2 0ZM315.7 686.6a2.6 2.6 0 1 0 5.2 0a2.6 2.6 0 1 0 -5.2 0ZM315.7 696.2a2.6 2.6 0 1 0 5.2 0a2.6 2.6 0 1 0 -5.2 0ZM315.7 705.9a2.6 2.6 0 1 0 5.2 0a2.6 2.6 0 1 0 -5.2 0ZM315.7 715.6a2.6 2.6 0 1 0 5.2 0a2.6 2.6 0 1 0 -5.2 0ZM315.7 725.2a2.6 2.6 0 1 0 5.2 0a2.6 2.6 0 1 0 -5.2 0ZM315.7 734.9a2.6 2.6 0 1 0 5.2 0a2.6 2.6 0 1 0 -5.2 0ZM315.7 744.6a2.6 2.6 0 1 0 5.2 0a2.6 2.6 0 1 0 -5.2 0ZM315.7 754.3a2.6 2.6 0 1 0 5.2 0a2.6 2.6 0 1 0 -5.2 0ZM315.7 763.9a2.6 2.6 0 1 0 5.2 0a2.6 2.6 0 1 0 -5.2 0ZM315.7 773.6a2.6 2.6 0 1 0 5.2 0a2.6 2.6 0 1 0 -5.2 0Z" fill="#a3c8e1"/>
<path d="M220 398.6h33a5 5 0 0 1 5 5v33a5 5 0 0 1 -5 5h-14l-2.5 3l-2.5 -3h-14a5 5 0 0 1 -5 -5v-33a5 5 0 0 1 5 -5Z" fill="#9bcdf5"/><circle cx="236.5" cy="420.1" r="11.8" fill="#f8fafe"/><circle cx="231.1" cy="420.1" r="1.7" fill="#9db5c8"/><circle cx="241.9" cy="420.1" r="1.7" fill="#9db5c8"/>
<path d="M945.7 399h33a5 5 0 0 1 5 5v33a5 5 0 0 1 -5 5h-33a5 5 0 0 1 -5 -5v-33a5 5 0 0 1 5 -5Z" fill="#9bcdf5"/><circle cx="962.2" cy="420.5" r="11.8" fill="#f8fafe"/><circle cx="956.8" cy="420.5" r="1.7" fill="#9db5c8"/><circle cx="967.6" cy="420.5" r="1.7" fill="#9db5c8"/>
<path d="M1223.8 762h14l2.5 -3l2.5 3h14a5 5 0 0 1 5 5v33a5 5 0 0 1 -5 5h-33a5 5 0 0 1 -5 -5v-33a5 5 0 0 1 5 -5Z" fill="#9bcdf5"/><circle cx="1240.3" cy="783.5" r="11.8" fill="#f8fafe"/><circle cx="1234.9" cy="783.5" r="1.7" fill="#9db5c8"/><circle cx="1245.7" cy="783.5" r="1.7" fill="#9db5c8"/></g>
<g clip-path="url(#cDark)"><path d="M264.4 420.6a2.6 2.6 0 1 0 5.2 0a2.6 2.6 0 1 0 -5.2 0ZM274.3 420.6a2.6 2.6 0 1 0 5.2 0a2.6 2.6 0 1 0 -5.2 0ZM284.3 420.6a2.6 2.6 0 1 0 5.2 0a2.6 2.6 0 1 0 -5.2 0ZM294.2 420.6a2.6 2.6 0 1 0 5.2 0a2.6 2.6 0 1 0 -5.2 0ZM304.1 420.6a2.6 2.6 0 1 0 5.2 0a2.6 2.6 0 1 0 -5.2 0ZM314.1 420.6a2.6 2.6 0 1 0 5.2 0a2.6 2.6 0 1 0 -5.2 0ZM324.0 420.6a2.6 2.6 0 1 0 5.2 0a2.6 2.6 0 1 0 -5.2 0ZM333.9 420.6a2.6 2.6 0 1 0 5.2 0a2.6 2.6 0 1 0 -5.2 0ZM343.9 420.6a2.6 2.6 0 1 0 5.2 0a2.6 2.6 0 1 0 -5.2 0ZM353.8 420.6a2.6 2.6 0 1 0 5.2 0a2.6 2.6 0 1 0 -5.2 0ZM363.7 420.6a2.6 2.6 0 1 0 5.2 0a2.6 2.6 0 1 0 -5.2 0ZM373.7 420.6a2.6 2.6 0 1 0 5.2 0a2.6 2.6 0 1 0 -5.2 0ZM383.6 420.6a2.6 2.6 0 1 0 5.2 0a2.6 2.6 0 1 0 -5.2 0ZM393.5 420.6a2.6 2.6 0 1 0 5.2 0a2.6 2.6 0 1 0 -5.2 0ZM403.4 420.6a2.6 2.6 0 1 0 5.2 0a2.6 2.6 0 1 0 -5.2 0ZM413.4 420.6a2.6 2.6 0 1 0 5.2 0a2.6 2.6 0 1 0 -5.2 0ZM423.3 420.6a2.6 2.6 0 1 0 5.2 0a2.6 2.6 0 1 0 -5.2 0ZM433.2 420.6a2.6 2.6 0 1 0 5.2 0a2.6 2.6 0 1 0 -5.2 0ZM443.2 420.6a2.6 2.6 0 1 0 5.2 0a2.6 2.6 0 1 0 -5.2 0ZM453.1 420.6a2.6 2.6 0 1 0 5.2 0a2.6 2.6 0 1 0 -5.2 0ZM463.0 420.6a2.6 2.6 0 1 0 5.2 0a2.6 2.6 0 1 0 -5.2 0ZM473.0 420.6a2.6 2.6 0 1 0 5.2 0a2.6 2.6 0 1 0 -5.2 0ZM482.9 420.6a2.6 2.6 0 1 0 5.2 0a2.6 2.6 0 1 0 -5.2 0ZM492.8 420.6a2.6 2.6 0 1 0 5.2 0a2.6 2.6 0 1 0 -5.2 0ZM502.8 420.6a2.6 2.6 0 1 0 5.2 0a2.6 2.6 0 1 0 -5.2 0ZM512.7 420.6a2.6 2.6 0 1 0 5.2 0a2.6 2.6 0 1 0 -5.2 0ZM522.6 420.6a2.6 2.6 0 1 0 5.2 0a2.6 2.6 0 1 0 -5.2 0ZM532.6 420.6a2.6 2.6 0 1 0 5.2 0a2.6 2.6 0 1 0 -5.2 0ZM542.5 420.6a2.6 2.6 0 1 0 5.2 0a2.6 2.6 0 1 0 -5.2 0ZM552.4 420.6a2.6 2.6 0 1 0 5.2 0a2.6 2.6 0 1 0 -5.2 0ZM562.4 420.6a2.6 2.6 0 1 0 5.2 0a2.6 2.6 0 1 0 -5.2 0ZM572.3 420.6a2.6 2.6 0 1 0 5.2 0a2.6 2.6 0 1 0 -5.2 0ZM582.2 420.6a2.6 2.6 0 1 0 5.2 0a2.6 2.6 0 1 0 -5.2 0ZM592.2 420.6a2.6 2.6 0 1 0 5.2 0a2.6 2.6 0 1 0 -5.2 0ZM602.1 420.6a2.6 2.6 0 1 0 5.2 0a2.6 2.6 0 1 0 -5.2 0ZM612.0 420.6a2.6 2.6 0 1 0 5.2 0a2.6 2.6 0 1 0 -5.2 0ZM622.0 420.6a2.6 2.6 0 1 0 5.2 0a2.6 2.6 0 1 0 -5.2 0ZM631.9 420.6a2.6 2.6 0 1 0 5.2 0a2.6 2.6 0 1 0 -5.2 0ZM641.8 420.6a2.6 2.6 0 1 0 5.2 0a2.6 2.6 0 1 0 -5.2 0ZM651.7 420.6a2.6 2.6 0 1 0 5.2 0a2.6 2.6 0 1 0 -5.2 0ZM661.7 420.6a2.6 2.6 0 1 0 5.2 0a2.6 2.6 0 1 0 -5.2 0ZM671.6 420.6a2.6 2.6 0 1 0 5.2 0a2.6 2.6 0 1 0 -5.2 0ZM681.5 420.6a2.6 2.6 0 1 0 5.2 0a2.6 2.6 0 1 0 -5.2 0ZM691.5 420.6a2.6 2.6 0 1 0 5.2 0a2.6 2.6 0 1 0 -5.2 0ZM701.4 420.6a2.6 2.6 0 1 0 5.2 0a2.6 2.6 0 1 0 -5.2 0ZM711.3 420.6a2.6 2.6 0 1 0 5.2 0a2.6 2.6 0 1 0 -5.2 0ZM721.3 420.6a2.6 2.6 0 1 0 5.2 0a2.6 2.6 0 1 0 -5.2 0ZM731.2 420.6a2.6 2.6 0 1 0 5.2 0a2.6 2.6 0 1 0 -5.2 0ZM741.1 420.6a2.6 2.6 0 1 0 5.2 0a2.6 2.6 0 1 0 -5.2 0ZM751.1 420.6a2.6 2.6 0 1 0 5.2 0a2.6 2.6 0 1 0 -5.2 0ZM761.0 420.6a2.6 2.6 0 1 0 5.2 0a2.6 2.6 0 1 0 -5.2 0ZM770.9 420.6a2.6 2.6 0 1 0 5.2 0a2.6 2.6 0 1 0 -5.2 0ZM780.9 420.6a2.6 2.6 0 1 0 5.2 0a2.6 2.6 0 1 0 -5.2 0ZM790.8 420.6a2.6 2.6 0 1 0 5.2 0a2.6 2.6 0 1 0 -5.2 0ZM800.7 420.6a2.6 2.6 0 1 0 5.2 0a2.6 2.6 0 1 0 -5.2 0ZM810.7 420.6a2.6 2.6 0 1 0 5.2 0a2.6 2.6 0 1 0 -5.2 0ZM820.6 420.6a2.6 2.6 0 1 0 5.2 0a2.6 2.6 0 1 0 -5.2 0ZM830.5 420.6a2.6 2.6 0 1 0 5.2 0a2.6 2.6 0 1 0 -5.2 0ZM840.5 420.6a2.6 2.6 0 1 0 5.2 0a2.6 2.6 0 1 0 -5.2 0ZM850.4 420.6a2.6 2.6 0 1 0 5.2 0a2.6 2.6 0 1 0 -5.2 0ZM860.3 420.6a2.6 2.6 0 1 0 5.2 0a2.6 2.6 0 1 0 -5.2 0ZM870.2 420.6a2.6 2.6 0 1 0 5.2 0a2.6 2.6 0 1 0 -5.2 0ZM880.2 420.6a2.6 2.6 0 1 0 5.2 0a2.6 2.6 0 1 0 -5.2 0ZM890.1 420.6a2.6 2.6 0 1 0 5.2 0a2.6 2.6 0 1 0 -5.2 0ZM900.0 420.6a2.6 2.6 0 1 0 5.2 0a2.6 2.6 0 1 0 -5.2 0ZM910.0 420.6a2.6 2.6 0 1 0 5.2 0a2.6 2.6 0 1 0 -5.2 0ZM919.9 420.6a2.6 2.6 0 1 0 5.2 0a2.6 2.6 0 1 0 -5.2 0ZM929.8 420.6a2.6 2.6 0 1 0 5.2 0a2.6 2.6 0 1 0 -5.2 0ZM939.8 420.6a2.6 2.6 0 1 0 5.2 0a2.6 2.6 0 1 0 -5.2 0ZM949.7 420.6a2.6 2.6 0 1 0 5.2 0a2.6 2.6 0 1 0 -5.2 0ZM959.6 420.6a2.6 2.6 0 1 0 5.2 0a2.6 2.6 0 1 0 -5.2 0ZM969.6 420.6a2.6 2.6 0 1 0 5.2 0a2.6 2.6 0 1 0 -5.2 0ZM979.5 420.6a2.6 2.6 0 1 0 5.2 0a2.6 2.6 0 1 0 -5.2 0ZM989.4 420.6a2.6 2.6 0 1 0 5.2 0a2.6 2.6 0 1 0 -5.2 0ZM999.4 420.6a2.6 2.6 0 1 0 5.2 0a2.6 2.6 0 1 0 -5.2 0ZM1009.3 420.6a2.6 2.6 0 1 0 5.2 0a2.6 2.6 0 1 0 -5.2 0ZM1019.2 420.6a2.6 2.6 0 1 0 5.2 0a2.6 2.6 0 1 0 -5.2 0ZM1029.2 420.6a2.6 2.6 0 1 0 5.2 0a2.6 2.6 0 1 0 -5.2 0ZM1039.1 420.6a2.6 2.6 0 1 0 5.2 0a2.6 2.6 0 1 0 -5.2 0ZM1049.0 420.6a2.6 2.6 0 1 0 5.2 0a2.6 2.6 0 1 0 -5.2 0ZM1059.0 420.6a2.6 2.6 0 1 0 5.2 0a2.6 2.6 0 1 0 -5.2 0ZM1068.9 420.6a2.6 2.6 0 1 0 5.2 0a2.6 2.6 0 1 0 -5.2 0ZM1078.8 420.6a2.6 2.6 0 1 0 5.2 0a2.6 2.6 0 1 0 -5.2 0ZM1088.8 420.6a2.6 2.6 0 1 0 5.2 0a2.6 2.6 0 1 0 -5.2 0ZM1098.7 420.6a2.6 2.6 0 1 0 5.2 0a2.6 2.6 0 1 0 -5.2 0ZM1108.6 420.6a2.6 2.6 0 1 0 5.2 0a2.6 2.6 0 1 0 -5.2 0ZM1118.5 420.6a2.6 2.6 0 1 0 5.2 0a2.6 2.6 0 1 0 -5.2 0ZM1128.5 420.6a2.6 2.6 0 1 0 5.2 0a2.6 2.6 0 1 0 -5.2 0ZM1138.4 420.6a2.6 2.6 0 1 0 5.2 0a2.6 2.6 0 1 0 -5.2 0ZM1148.3 420.6a2.6 2.6 0 1 0 5.2 0a2.6 2.6 0 1 0 -5.2 0ZM1158.3 420.6a2.6 2.6 0 1 0 5.2 0a2.6 2.6 0 1 0 -5.2 0ZM1168.2 420.6a2.6 2.6 0 1 0 5.2 0a2.6 2.6 0 1 0 -5.2 0ZM1178.1 420.6a2.6 2.6 0 1 0 5.2 0a2.6 2.6 0 1 0 -5.2 0ZM1188.1 420.6a2.6 2.6 0 1 0 5.2 0a2.6 2.6 0 1 0 -5.2 0ZM1198.0 420.6a2.6 2.6 0 1 0 5.2 0a2.6 2.6 0 1 0 -5.2 0ZM1207.9 420.6a2.6 2.6 0 1 0 5.2 0a2.6 2.6 0 1 0 -5.2 0ZM1217.9 420.6a2.6 2.6 0 1 0 5.2 0a2.6 2.6 0 1 0 -5.2 0ZM1227.8 420.6a2.6 2.6 0 1 0 5.2 0a2.6 2.6 0 1 0 -5.2 0ZM1237.6 416.0a2.6 2.6 0 1 0 5.2 0a2.6 2.6 0 1 0 -5.2 0ZM1237.6 425.9a2.6 2.6 0 1 0 5.2 0a2.6 2.6 0 1 0 -5.2 0ZM1237.6 435.9a2.6 2.6 0 1 0 5.2 0a2.6 2.6 0 1 0 -5.2 0ZM1237.6 445.8a2.6 2.6 0 1 0 5.2 0a2.6 2.6 0 1 0 -5.2 0ZM1237.6 455.8a2.6 2.6 0 1 0 5.2 0a2.6 2.6 0 1 0 -5.2 0ZM1237.6 465.7a2.6 2.6 0 1 0 5.2 0a2.6 2.6 0 1 0 -5.2 0ZM1237.6 475.6a2.6 2.6 0 1 0 5.2 0a2.6 2.6 0 1 0 -5.2 0ZM1237.6 485.6a2.6 2.6 0 1 0 5.2 0a2.6 2.6 0 1 0 -5.2 0ZM1237.6 495.5a2.6 2.6 0 1 0 5.2 0a2.6 2.6 0 1 0 -5.2 0ZM1237.6 505.5a2.6 2.6 0 1 0 5.2 0a2.6 2.6 0 1 0 -5.2 0ZM1237.6 515.4a2.6 2.6 0 1 0 5.2 0a2.6 2.6 0 1 0 -5.2 0ZM1237.6 525.4a2.6 2.6 0 1 0 5.2 0a2.6 2.6 0 1 0 -5.2 0ZM1237.6 535.3a2.6 2.6 0 1 0 5.2 0a2.6 2.6 0 1 0 -5.2 0ZM1237.6 545.2a2.6 2.6 0 1 0 5.2 0a2.6 2.6 0 1 0 -5.2 0ZM1237.6 555.2a2.6 2.6 0 1 0 5.2 0a2.6 2.6 0 1 0 -5.2 0ZM1237.6 565.1a2.6 2.6 0 1 0 5.2 0a2.6 2.6 0 1 0 -5.2 0ZM1237.6 575.1a2.6 2.6 0 1 0 5.2 0a2.6 2.6 0 1 0 -5.2 0ZM1237.6 585.0a2.6 2.6 0 1 0 5.2 0a2.6 2.6 0 1 0 -5.2 0ZM1237.6 594.9a2.6 2.6 0 1 0 5.2 0a2.6 2.6 0 1 0 -5.2 0ZM1237.6 604.9a2.6 2.6 0 1 0 5.2 0a2.6 2.6 0 1 0 -5.2 0ZM1237.6 614.8a2.6 2.6 0 1 0 5.2 0a2.6 2.6 0 1 0 -5.2 0ZM1237.6 624.8a2.6 2.6 0 1 0 5.2 0a2.6 2.6 0 1 0 -5.2 0ZM1237.6 634.7a2.6 2.6 0 1 0 5.2 0a2.6 2.6 0 1 0 -5.2 0ZM1237.6 644.6a2.6 2.6 0 1 0 5.2 0a2.6 2.6 0 1 0 -5.2 0ZM1237.6 654.6a2.6 2.6 0 1 0 5.2 0a2.6 2.6 0 1 0 -5.2 0ZM1237.6 664.5a2.6 2.6 0 1 0 5.2 0a2.6 2.6 0 1 0 -5.2 0ZM1237.6 674.5a2.6 2.6 0 1 0 5.2 0a2.6 2.6 0 1 0 -5.2 0ZM1237.6 684.4a2.6 2.6 0 1 0 5.2 0a2.6 2.6 0 1 0 -5.2 0ZM1237.6 694.4a2.6 2.6 0 1 0 5.2 0a2.6 2.6 0 1 0 -5.2 0ZM1237.6 704.3a2.6 2.6 0 1 0 5.2 0a2.6 2.6 0 1 0 -5.2 0ZM1237.6 714.2a2.6 2.6 0 1 0 5.2 0a2.6 2.6 0 1 0 -5.2 0ZM1237.6 724.2a2.6 2.6 0 1 0 5.2 0a2.6 2.6 0 1 0 -5.2 0ZM1237.6 734.1a2.6 2.6 0 1 0 5.2 0a2.6 2.6 0 1 0 -5.2 0ZM1237.6 744.1a2.6 2.6 0 1 0 5.2 0a2.6 2.6 0 1 0 -5.2 0ZM1237.6 754.0a2.6 2.6 0 1 0 5.2 0a2.6 2.6 0 1 0 -5.2 0ZM315.7 783.3a2.6 2.6 0 1 0 5.2 0a2.6 2.6 0 1 0 -5.2 0ZM325.6 783.3a2.6 2.6 0 1 0 5.2 0a2.6 2.6 0 1 0 -5.2 0ZM335.5 783.3a2.6 2.6 0 1 0 5.2 0a2.6 2.6 0 1 0 -5.2 0ZM345.4 783.3a2.6 2.6 0 1 0 5.2 0a2.6 2.6 0 1 0 -5.2 0ZM355.3 783.3a2.6 2.6 0 1 0 5.2 0a2.6 2.6 0 1 0 -5.2 0ZM365.3 783.3a2.6 2.6 0 1 0 5.2 0a2.6 2.6 0 1 0 -5.2 0ZM375.2 783.3a2.6 2.6 0 1 0 5.2 0a2.6 2.6 0 1 0 -5.2 0ZM385.1 783.3a2.6 2.6 0 1 0 5.2 0a2.6 2.6 0 1 0 -5.2 0ZM395.0 783.3a2.6 2.6 0 1 0 5.2 0a2.6 2.6 0 1 0 -5.2 0ZM404.9 783.3a2.6 2.6 0 1 0 5.2 0a2.6 2.6 0 1 0 -5.2 0ZM414.8 783.3a2.6 2.6 0 1 0 5.2 0a2.6 2.6 0 1 0 -5.2 0ZM424.7 783.3a2.6 2.6 0 1 0 5.2 0a2.6 2.6 0 1 0 -5.2 0ZM434.6 783.3a2.6 2.6 0 1 0 5.2 0a2.6 2.6 0 1 0 -5.2 0ZM444.5 783.3a2.6 2.6 0 1 0 5.2 0a2.6 2.6 0 1 0 -5.2 0ZM454.5 783.3a2.6 2.6 0 1 0 5.2 0a2.6 2.6 0 1 0 -5.2 0ZM464.4 783.3a2.6 2.6 0 1 0 5.2 0a2.6 2.6 0 1 0 -5.2 0ZM474.3 783.3a2.6 2.6 0 1 0 5.2 0a2.6 2.6 0 1 0 -5.2 0ZM484.2 783.3a2.6 2.6 0 1 0 5.2 0a2.6 2.6 0 1 0 -5.2 0ZM494.1 783.3a2.6 2.6 0 1 0 5.2 0a2.6 2.6 0 1 0 -5.2 0ZM504.0 783.3a2.6 2.6 0 1 0 5.2 0a2.6 2.6 0 1 0 -5.2 0ZM513.9 783.3a2.6 2.6 0 1 0 5.2 0a2.6 2.6 0 1 0 -5.2 0ZM523.8 783.3a2.6 2.6 0 1 0 5.2 0a2.6 2.6 0 1 0 -5.2 0ZM533.7 783.3a2.6 2.6 0 1 0 5.2 0a2.6 2.6 0 1 0 -5.2 0ZM543.7 783.3a2.6 2.6 0 1 0 5.2 0a2.6 2.6 0 1 0 -5.2 0ZM553.6 783.3a2.6 2.6 0 1 0 5.2 0a2.6 2.6 0 1 0 -5.2 0ZM563.5 783.3a2.6 2.6 0 1 0 5.2 0a2.6 2.6 0 1 0 -5.2 0ZM573.4 783.3a2.6 2.6 0 1 0 5.2 0a2.6 2.6 0 1 0 -5.2 0ZM583.3 783.3a2.6 2.6 0 1 0 5.2 0a2.6 2.6 0 1 0 -5.2 0ZM593.2 783.3a2.6 2.6 0 1 0 5.2 0a2.6 2.6 0 1 0 -5.2 0ZM603.1 783.3a2.6 2.6 0 1 0 5.2 0a2.6 2.6 0 1 0 -5.2 0ZM613.0 783.3a2.6 2.6 0 1 0 5.2 0a2.6 2.6 0 1 0 -5.2 0ZM622.9 783.3a2.6 2.6 0 1 0 5.2 0a2.6 2.6 0 1 0 -5.2 0ZM632.9 783.3a2.6 2.6 0 1 0 5.2 0a2.6 2.6 0 1 0 -5.2 0ZM642.8 783.3a2.6 2.6 0 1 0 5.2 0a2.6 2.6 0 1 0 -5.2 0ZM652.7 783.3a2.6 2.6 0 1 0 5.2 0a2.6 2.6 0 1 0 -5.2 0ZM662.6 783.3a2.6 2.6 0 1 0 5.2 0a2.6 2.6 0 1 0 -5.2 0ZM672.5 783.3a2.6 2.6 0 1 0 5.2 0a2.6 2.6 0 1 0 -5.2 0ZM682.4 783.3a2.6 2.6 0 1 0 5.2 0a2.6 2.6 0 1 0 -5.2 0ZM692.3 783.3a2.6 2.6 0 1 0 5.2 0a2.6 2.6 0 1 0 -5.2 0ZM702.2 783.3a2.6 2.6 0 1 0 5.2 0a2.6 2.6 0 1 0 -5.2 0ZM712.1 783.3a2.6 2.6 0 1 0 5.2 0a2.6 2.6 0 1 0 -5.2 0ZM722.1 783.3a2.6 2.6 0 1 0 5.2 0a2.6 2.6 0 1 0 -5.2 0ZM732.0 783.3a2.6 2.6 0 1 0 5.2 0a2.6 2.6 0 1 0 -5.2 0ZM741.9 783.3a2.6 2.6 0 1 0 5.2 0a2.6 2.6 0 1 0 -5.2 0ZM751.8 783.3a2.6 2.6 0 1 0 5.2 0a2.6 2.6 0 1 0 -5.2 0ZM761.7 783.3a2.6 2.6 0 1 0 5.2 0a2.6 2.6 0 1 0 -5.2 0ZM771.6 783.3a2.6 2.6 0 1 0 5.2 0a2.6 2.6 0 1 0 -5.2 0ZM781.5 783.3a2.6 2.6 0 1 0 5.2 0a2.6 2.6 0 1 0 -5.2 0ZM791.4 783.3a2.6 2.6 0 1 0 5.2 0a2.6 2.6 0 1 0 -5.2 0ZM801.3 783.3a2.6 2.6 0 1 0 5.2 0a2.6 2.6 0 1 0 -5.2 0ZM811.3 783.3a2.6 2.6 0 1 0 5.2 0a2.6 2.6 0 1 0 -5.2 0ZM821.2 783.3a2.6 2.6 0 1 0 5.2 0a2.6 2.6 0 1 0 -5.2 0ZM831.1 783.3a2.6 2.6 0 1 0 5.2 0a2.6 2.6 0 1 0 -5.2 0ZM841.0 783.3a2.6 2.6 0 1 0 5.2 0a2.6 2.6 0 1 0 -5.2 0ZM850.9 783.3a2.6 2.6 0 1 0 5.2 0a2.6 2.6 0 1 0 -5.2 0ZM860.8 783.3a2.6 2.6 0 1 0 5.2 0a2.6 2.6 0 1 0 -5.2 0ZM870.7 783.3a2.6 2.6 0 1 0 5.2 0a2.6 2.6 0 1 0 -5.2 0ZM880.6 783.3a2.6 2.6 0 1 0 5.2 0a2.6 2.6 0 1 0 -5.2 0ZM890.5 783.3a2.6 2.6 0 1 0 5.2 0a2.6 2.6 0 1 0 -5.2 0ZM900.5 783.3a2.6 2.6 0 1 0 5.2 0a2.6 2.6 0 1 0 -5.2 0ZM910.4 783.3a2.6 2.6 0 1 0 5.2 0a2.6 2.6 0 1 0 -5.2 0ZM920.3 783.3a2.6 2.6 0 1 0 5.2 0a2.6 2.6 0 1 0 -5.2 0ZM930.2 783.3a2.6 2.6 0 1 0 5.2 0a2.6 2.6 0 1 0 -5.2 0ZM940.1 783.3a2.6 2.6 0 1 0 5.2 0a2.6 2.6 0 1 0 -5.2 0ZM950.0 783.3a2.6 2.6 0 1 0 5.2 0a2.6 2.6 0 1 0 -5.2 0ZM959.9 783.3a2.6 2.6 0 1 0 5.2 0a2.6 2.6 0 1 0 -5.2 0ZM969.8 783.3a2.6 2.6 0 1 0 5.2 0a2.6 2.6 0 1 0 -5.2 0ZM979.7 783.3a2.6 2.6 0 1 0 5.2 0a2.6 2.6 0 1 0 -5.2 0ZM989.7 783.3a2.6 2.6 0 1 0 5.2 0a2.6 2.6 0 1 0 -5.2 0ZM999.6 783.3a2.6 2.6 0 1 0 5.2 0a2.6 2.6 0 1 0 -5.2 0ZM1009.5 783.3a2.6 2.6 0 1 0 5.2 0a2.6 2.6 0 1 0 -5.2 0ZM1019.4 783.3a2.6 2.6 0 1 0 5.2 0a2.6 2.6 0 1 0 -5.2 0ZM1029.3 783.3a2.6 2.6 0 1 0 5.2 0a2.6 2.6 0 1 0 -5.2 0ZM1039.2 783.3a2.6 2.6 0 1 0 5.2 0a2.6 2.6 0 1 0 -5.2 0ZM1049.1 783.3a2.6 2.6 0 1 0 5.2 0a2.6 2.6 0 1 0 -5.2 0ZM1059.0 783.3a2.6 2.6 0 1 0 5.2 0a2.6 2.6 0 1 0 -5.2 0ZM1068.9 783.3a2.6 2.6 0 1 0 5.2 0a2.6 2.6 0 1 0 -5.2 0ZM1078.9 783.3a2.6 2.6 0 1 0 5.2 0a2.6 2.6 0 1 0 -5.2 0ZM1088.8 783.3a2.6 2.6 0 1 0 5.2 0a2.6 2.6 0 1 0 -5.2 0ZM1098.7 783.3a2.6 2.6 0 1 0 5.2 0a2.6 2.6 0 1 0 -5.2 0ZM1108.6 783.3a2.6 2.6 0 1 0 5.2 0a2.6 2.6 0 1 0 -5.2 0ZM1118.5 783.3a2.6 2.6 0 1 0 5.2 0a2.6 2.6 0 1 0 -5.2 0ZM1128.4 783.3a2.6 2.6 0 1 0 5.2 0a2.6 2.6 0 1 0 -5.2 0ZM1138.3 783.3a2.6 2.6 0 1 0 5.2 0a2.6 2.6 0 1 0 -5.2 0ZM1148.2 783.3a2.6 2.6 0 1 0 5.2 0a2.6 2.6 0 1 0 -5.2 0ZM1158.1 783.3a2.6 2.6 0 1 0 5.2 0a2.6 2.6 0 1 0 -5.2 0ZM1168.1 783.3a2.6 2.6 0 1 0 5.2 0a2.6 2.6 0 1 0 -5.2 0ZM1178.0 783.3a2.6 2.6 0 1 0 5.2 0a2.6 2.6 0 1 0 -5.2 0ZM1187.9 783.3a2.6 2.6 0 1 0 5.2 0a2.6 2.6 0 1 0 -5.2 0ZM1197.8 783.3a2.6 2.6 0 1 0 5.2 0a2.6 2.6 0 1 0 -5.2 0ZM1207.7 783.3a2.6 2.6 0 1 0 5.2 0a2.6 2.6 0 1 0 -5.2 0ZM233.7 452.4a2.6 2.6 0 1 0 5.2 0a2.6 2.6 0 1 0 -5.2 0ZM233.7 462.0a2.6 2.6 0 1 0 5.2 0a2.6 2.6 0 1 0 -5.2 0ZM233.7 471.5a2.6 2.6 0 1 0 5.2 0a2.6 2.6 0 1 0 -5.2 0ZM233.7 481.1a2.6 2.6 0 1 0 5.2 0a2.6 2.6 0 1 0 -5.2 0ZM233.7 490.7a2.6 2.6 0 1 0 5.2 0a2.6 2.6 0 1 0 -5.2 0ZM233.7 500.2a2.6 2.6 0 1 0 5.2 0a2.6 2.6 0 1 0 -5.2 0ZM233.7 509.8a2.6 2.6 0 1 0 5.2 0a2.6 2.6 0 1 0 -5.2 0ZM244.8 509.8a2.6 2.6 0 1 0 5.2 0a2.6 2.6 0 1 0 -5.2 0ZM255.8 509.8a2.6 2.6 0 1 0 5.2 0a2.6 2.6 0 1 0 -5.2 0ZM255.8 519.4a2.6 2.6 0 1 0 5.2 0a2.6 2.6 0 1 0 -5.2 0ZM255.8 528.9a2.6 2.6 0 1 0 5.2 0a2.6 2.6 0 1 0 -5.2 0ZM255.8 538.4a2.6 2.6 0 1 0 5.2 0a2.6 2.6 0 1 0 -5.2 0ZM255.8 547.8a2.6 2.6 0 1 0 5.2 0a2.6 2.6 0 1 0 -5.2 0ZM255.8 557.3a2.6 2.6 0 1 0 5.2 0a2.6 2.6 0 1 0 -5.2 0ZM255.8 566.8a2.6 2.6 0 1 0 5.2 0a2.6 2.6 0 1 0 -5.2 0ZM267.2 667.2a2.6 2.6 0 1 0 5.2 0a2.6 2.6 0 1 0 -5.2 0ZM276.9 667.2a2.6 2.6 0 1 0 5.2 0a2.6 2.6 0 1 0 -5.2 0ZM286.6 667.2a2.6 2.6 0 1 0 5.2 0a2.6 2.6 0 1 0 -5.2 0ZM296.3 667.2a2.6 2.6 0 1 0 5.2 0a2.6 2.6 0 1 0 -5.2 0ZM306.0 667.2a2.6 2.6 0 1 0 5.2 0a2.6 2.6 0 1 0 -5.2 0ZM315.7 667.2a2.6 2.6 0 1 0 5.2 0a2.6 2.6 0 1 0 -5.2 0ZM315.7 676.9a2.6 2.6 0 1 0 5.2 0a2.6 2.6 0 1 0 -5.2 0ZM315.7 686.6a2.6 2.6 0 1 0 5.2 0a2.6 2.6 0 1 0 -5.2 0ZM315.7 696.2a2.6 2.6 0 1 0 5.2 0a2.6 2.6 0 1 0 -5.2 0ZM315.7 705.9a2.6 2.6 0 1 0 5.2 0a2.6 2.6 0 1 0 -5.2 0ZM315.7 715.6a2.6 2.6 0 1 0 5.2 0a2.6 2.6 0 1 0 -5.2 0ZM315.7 725.2a2.6 2.6 0 1 0 5.2 0a2.6 2.6 0 1 0 -5.2 0ZM315.7 734.9a2.6 2.6 0 1 0 5.2 0a2.6 2.6 0 1 0 -5.2 0ZM315.7 744.6a2.6 2.6 0 1 0 5.2 0a2.6 2.6 0 1 0 -5.2 0ZM315.7 754.3a2.6 2.6 0 1 0 5.2 0a2.6 2.6 0 1 0 -5.2 0ZM315.7 763.9a2.6 2.6 0 1 0 5.2 0a2.6 2.6 0 1 0 -5.2 0ZM315.7 773.6a2.6 2.6 0 1 0 5.2 0a2.6 2.6 0 1 0 -5.2 0Z" fill="#80c0a3"/>
<path d="M220 398.6h33a5 5 0 0 1 5 5v33a5 5 0 0 1 -5 5h-14l-2.5 3l-2.5 -3h-14a5 5 0 0 1 -5 -5v-33a5 5 0 0 1 5 -5Z" fill="#75beac"/><circle cx="236.5" cy="420.1" r="11.8" fill="#c3e4b4"/><circle cx="231.1" cy="420.1" r="1.7" fill="#8cbe8c"/><circle cx="241.9" cy="420.1" r="1.7" fill="#8cbe8c"/>
<path d="M945.7 399h33a5 5 0 0 1 5 5v33a5 5 0 0 1 -5 5h-33a5 5 0 0 1 -5 -5v-33a5 5 0 0 1 5 -5Z" fill="#75beac"/><circle cx="962.2" cy="420.5" r="11.8" fill="#c3e4b4"/><circle cx="956.8" cy="420.5" r="1.7" fill="#8cbe8c"/><circle cx="967.6" cy="420.5" r="1.7" fill="#8cbe8c"/>
<path d="M1223.8 762h14l2.5 -3l2.5 3h14a5 5 0 0 1 5 5v33a5 5 0 0 1 -5 5h-33a5 5 0 0 1 -5 -5v-33a5 5 0 0 1 5 -5Z" fill="#75beac"/><circle cx="1240.3" cy="783.5" r="11.8" fill="#c3e4b4"/><circle cx="1234.9" cy="783.5" r="1.7" fill="#8cbe8c"/><circle cx="1245.7" cy="783.5" r="1.7" fill="#8cbe8c"/></g>
<g clip-path="url(#cCen)"><g clip-path="url(#cLR)"><path d="M264.4 420.6a2.6 2.6 0 1 0 5.2 0a2.6 2.6 0 1 0 -5.2 0ZM274.3 420.6a2.6 2.6 0 1 0 5.2 0a2.6 2.6 0 1 0 -5.2 0ZM284.3 420.6a2.6 2.6 0 1 0 5.2 0a2.6 2.6 0 1 0 -5.2 0ZM294.2 420.6a2.6 2.6 0 1 0 5.2 0a2.6 2.6 0 1 0 -5.2 0ZM304.1 420.6a2.6 2.6 0 1 0 5.2 0a2.6 2.6 0 1 0 -5.2 0ZM314.1 420.6a2.6 2.6 0 1 0 5.2 0a2.6 2.6 0 1 0 -5.2 0ZM324.0 420.6a2.6 2.6 0 1 0 5.2 0a2.6 2.6 0 1 0 -5.2 0ZM333.9 420.6a2.6 2.6 0 1 0 5.2 0a2.6 2.6 0 1 0 -5.2 0ZM343.9 420.6a2.6 2.6 0 1 0 5.2 0a2.6 2.6 0 1 0 -5.2 0ZM353.8 420.6a2.6 2.6 0 1 0 5.2 0a2.6 2.6 0 1 0 -5.2 0ZM363.7 420.6a2.6 2.6 0 1 0 5.2 0a2.6 2.6 0 1 0 -5.2 0ZM373.7 420.6a2.6 2.6 0 1 0 5.2 0a2.6 2.6 0 1 0 -5.2 0ZM383.6 420.6a2.6 2.6 0 1 0 5.2 0a2.6 2.6 0 1 0 -5.2 0ZM393.5 420.6a2.6 2.6 0 1 0 5.2 0a2.6 2.6 0 1 0 -5.2 0ZM403.4 420.6a2.6 2.6 0 1 0 5.2 0a2.6 2.6 0 1 0 -5.2 0ZM413.4 420.6a2.6 2.6 0 1 0 5.2 0a2.6 2.6 0 1 0 -5.2 0ZM423.3 420.6a2.6 2.6 0 1 0 5.2 0a2.6 2.6 0 1 0 -5.2 0ZM433.2 420.6a2.6 2.6 0 1 0 5.2 0a2.6 2.6 0 1 0 -5.2 0ZM443.2 420.6a2.6 2.6 0 1 0 5.2 0a2.6 2.6 0 1 0 -5.2 0ZM453.1 420.6a2.6 2.6 0 1 0 5.2 0a2.6 2.6 0 1 0 -5.2 0ZM463.0 420.6a2.6 2.6 0 1 0 5.2 0a2.6 2.6 0 1 0 -5.2 0ZM473.0 420.6a2.6 2.6 0 1 0 5.2 0a2.6 2.6 0 1 0 -5.2 0ZM482.9 420.6a2.6 2.6 0 1 0 5.2 0a2.6 2.6 0 1 0 -5.2 0ZM492.8 420.6a2.6 2.6 0 1 0 5.2 0a2.6 2.6 0 1 0 -5.2 0ZM502.8 420.6a2.6 2.6 0 1 0 5.2 0a2.6 2.6 0 1 0 -5.2 0ZM512.7 420.6a2.6 2.6 0 1 0 5.2 0a2.6 2.6 0 1 0 -5.2 0ZM522.6 420.6a2.6 2.6 0 1 0 5.2 0a2.6 2.6 0 1 0 -5.2 0ZM532.6 420.6a2.6 2.6 0 1 0 5.2 0a2.6 2.6 0 1 0 -5.2 0ZM542.5 420.6a2.6 2.6 0 1 0 5.2 0a2.6 2.6 0 1 0 -5.2 0ZM552.4 420.6a2.6 2.6 0 1 0 5.2 0a2.6 2.6 0 1 0 -5.2 0ZM562.4 420.6a2.6 2.6 0 1 0 5.2 0a2.6 2.6 0 1 0 -5.2 0ZM572.3 420.6a2.6 2.6 0 1 0 5.2 0a2.6 2.6 0 1 0 -5.2 0ZM582.2 420.6a2.6 2.6 0 1 0 5.2 0a2.6 2.6 0 1 0 -5.2 0ZM592.2 420.6a2.6 2.6 0 1 0 5.2 0a2.6 2.6 0 1 0 -5.2 0ZM602.1 420.6a2.6 2.6 0 1 0 5.2 0a2.6 2.6 0 1 0 -5.2 0ZM612.0 420.6a2.6 2.6 0 1 0 5.2 0a2.6 2.6 0 1 0 -5.2 0ZM622.0 420.6a2.6 2.6 0 1 0 5.2 0a2.6 2.6 0 1 0 -5.2 0ZM631.9 420.6a2.6 2.6 0 1 0 5.2 0a2.6 2.6 0 1 0 -5.2 0ZM641.8 420.6a2.6 2.6 0 1 0 5.2 0a2.6 2.6 0 1 0 -5.2 0ZM651.7 420.6a2.6 2.6 0 1 0 5.2 0a2.6 2.6 0 1 0 -5.2 0ZM661.7 420.6a2.6 2.6 0 1 0 5.2 0a2.6 2.6 0 1 0 -5.2 0ZM671.6 420.6a2.6 2.6 0 1 0 5.2 0a2.6 2.6 0 1 0 -5.2 0ZM681.5 420.6a2.6 2.6 0 1 0 5.2 0a2.6 2.6 0 1 0 -5.2 0ZM691.5 420.6a2.6 2.6 0 1 0 5.2 0a2.6 2.6 0 1 0 -5.2 0ZM701.4 420.6a2.6 2.6 0 1 0 5.2 0a2.6 2.6 0 1 0 -5.2 0ZM711.3 420.6a2.6 2.6 0 1 0 5.2 0a2.6 2.6 0 1 0 -5.2 0ZM721.3 420.6a2.6 2.6 0 1 0 5.2 0a2.6 2.6 0 1 0 -5.2 0ZM731.2 420.6a2.6 2.6 0 1 0 5.2 0a2.6 2.6 0 1 0 -5.2 0ZM741.1 420.6a2.6 2.6 0 1 0 5.2 0a2.6 2.6 0 1 0 -5.2 0ZM751.1 420.6a2.6 2.6 0 1 0 5.2 0a2.6 2.6 0 1 0 -5.2 0ZM761.0 420.6a2.6 2.6 0 1 0 5.2 0a2.6 2.6 0 1 0 -5.2 0ZM770.9 420.6a2.6 2.6 0 1 0 5.2 0a2.6 2.6 0 1 0 -5.2 0ZM780.9 420.6a2.6 2.6 0 1 0 5.2 0a2.6 2.6 0 1 0 -5.2 0ZM790.8 420.6a2.6 2.6 0 1 0 5.2 0a2.6 2.6 0 1 0 -5.2 0ZM800.7 420.6a2.6 2.6 0 1 0 5.2 0a2.6 2.6 0 1 0 -5.2 0ZM810.7 420.6a2.6 2.6 0 1 0 5.2 0a2.6 2.6 0 1 0 -5.2 0ZM820.6 420.6a2.6 2.6 0 1 0 5.2 0a2.6 2.6 0 1 0 -5.2 0ZM830.5 420.6a2.6 2.6 0 1 0 5.2 0a2.6 2.6 0 1 0 -5.2 0ZM840.5 420.6a2.6 2.6 0 1 0 5.2 0a2.6 2.6 0 1 0 -5.2 0ZM850.4 420.6a2.6 2.6 0 1 0 5.2 0a2.6 2.6 0 1 0 -5.2 0ZM860.3 420.6a2.6 2.6 0 1 0 5.2 0a2.6 2.6 0 1 0 -5.2 0ZM870.2 420.6a2.6 2.6 0 1 0 5.2 0a2.6 2.6 0 1 0 -5.2 0ZM880.2 420.6a2.6 2.6 0 1 0 5.2 0a2.6 2.6 0 1 0 -5.2 0ZM890.1 420.6a2.6 2.6 0 1 0 5.2 0a2.6 2.6 0 1 0 -5.2 0ZM900.0 420.6a2.6 2.6 0 1 0 5.2 0a2.6 2.6 0 1 0 -5.2 0ZM910.0 420.6a2.6 2.6 0 1 0 5.2 0a2.6 2.6 0 1 0 -5.2 0ZM919.9 420.6a2.6 2.6 0 1 0 5.2 0a2.6 2.6 0 1 0 -5.2 0ZM929.8 420.6a2.6 2.6 0 1 0 5.2 0a2.6 2.6 0 1 0 -5.2 0ZM939.8 420.6a2.6 2.6 0 1 0 5.2 0a2.6 2.6 0 1 0 -5.2 0ZM949.7 420.6a2.6 2.6 0 1 0 5.2 0a2.6 2.6 0 1 0 -5.2 0ZM959.6 420.6a2.6 2.6 0 1 0 5.2 0a2.6 2.6 0 1 0 -5.2 0ZM969.6 420.6a2.6 2.6 0 1 0 5.2 0a2.6 2.6 0 1 0 -5.2 0ZM979.5 420.6a2.6 2.6 0 1 0 5.2 0a2.6 2.6 0 1 0 -5.2 0ZM989.4 420.6a2.6 2.6 0 1 0 5.2 0a2.6 2.6 0 1 0 -5.2 0ZM999.4 420.6a2.6 2.6 0 1 0 5.2 0a2.6 2.6 0 1 0 -5.2 0ZM1009.3 420.6a2.6 2.6 0 1 0 5.2 0a2.6 2.6 0 1 0 -5.2 0ZM1019.2 420.6a2.6 2.6 0 1 0 5.2 0a2.6 2.6 0 1 0 -5.2 0ZM1029.2 420.6a2.6 2.6 0 1 0 5.2 0a2.6 2.6 0 1 0 -5.2 0ZM1039.1 420.6a2.6 2.6 0 1 0 5.2 0a2.6 2.6 0 1 0 -5.2 0ZM1049.0 420.6a2.6 2.6 0 1 0 5.2 0a2.6 2.6 0 1 0 -5.2 0ZM1059.0 420.6a2.6 2.6 0 1 0 5.2 0a2.6 2.6 0 1 0 -5.2 0ZM1068.9 420.6a2.6 2.6 0 1 0 5.2 0a2.6 2.6 0 1 0 -5.2 0ZM1078.8 420.6a2.6 2.6 0 1 0 5.2 0a2.6 2.6 0 1 0 -5.2 0ZM1088.8 420.6a2.6 2.6 0 1 0 5.2 0a2.6 2.6 0 1 0 -5.2 0ZM1098.7 420.6a2.6 2.6 0 1 0 5.2 0a2.6 2.6 0 1 0 -5.2 0ZM1108.6 420.6a2.6 2.6 0 1 0 5.2 0a2.6 2.6 0 1 0 -5.2 0ZM1118.5 420.6a2.6 2.6 0 1 0 5.2 0a2.6 2.6 0 1 0 -5.2 0ZM1128.5 420.6a2.6 2.6 0 1 0 5.2 0a2.6 2.6 0 1 0 -5.2 0ZM1138.4 420.6a2.6 2.6 0 1 0 5.2 0a2.6 2.6 0 1 0 -5.2 0ZM1148.3 420.6a2.6 2.6 0 1 0 5.2 0a2.6 2.6 0 1 0 -5.2 0ZM1158.3 420.6a2.6 2.6 0 1 0 5.2 0a2.6 2.6 0 1 0 -5.2 0ZM1168.2 420.6a2.6 2.6 0 1 0 5.2 0a2.6 2.6 0 1 0 -5.2 0ZM1178.1 420.6a2.6 2.6 0 1 0 5.2 0a2.6 2.6 0 1 0 -5.2 0ZM1188.1 420.6a2.6 2.6 0 1 0 5.2 0a2.6 2.6 0 1 0 -5.2 0ZM1198.0 420.6a2.6 2.6 0 1 0 5.2 0a2.6 2.6 0 1 0 -5.2 0ZM1207.9 420.6a2.6 2.6 0 1 0 5.2 0a2.6 2.6 0 1 0 -5.2 0ZM1217.9 420.6a2.6 2.6 0 1 0 5.2 0a2.6 2.6 0 1 0 -5.2 0ZM1227.8 420.6a2.6 2.6 0 1 0 5.2 0a2.6 2.6 0 1 0 -5.2 0ZM1237.6 416.0a2.6 2.6 0 1 0 5.2 0a2.6 2.6 0 1 0 -5.2 0ZM1237.6 425.9a2.6 2.6 0 1 0 5.2 0a2.6 2.6 0 1 0 -5.2 0ZM1237.6 435.9a2.6 2.6 0 1 0 5.2 0a2.6 2.6 0 1 0 -5.2 0ZM1237.6 445.8a2.6 2.6 0 1 0 5.2 0a2.6 2.6 0 1 0 -5.2 0ZM1237.6 455.8a2.6 2.6 0 1 0 5.2 0a2.6 2.6 0 1 0 -5.2 0ZM1237.6 465.7a2.6 2.6 0 1 0 5.2 0a2.6 2.6 0 1 0 -5.2 0ZM1237.6 475.6a2.6 2.6 0 1 0 5.2 0a2.6 2.6 0 1 0 -5.2 0ZM1237.6 485.6a2.6 2.6 0 1 0 5.2 0a2.6 2.6 0 1 0 -5.2 0ZM1237.6 495.5a2.6 2.6 0 1 0 5.2 0a2.6 2.6 0 1 0 -5.2 0ZM1237.6 505.5a2.6 2.6 0 1 0 5.2 0a2.6 2.6 0 1 0 -5.2 0ZM1237.6 515.4a2.6 2.6 0 1 0 5.2 0a2.6 2.6 0 1 0 -5.2 0ZM1237.6 525.4a2.6 2.6 0 1 0 5.2 0a2.6 2.6 0 1 0 -5.2 0ZM1237.6 535.3a2.6 2.6 0 1 0 5.2 0a2.6 2.6 0 1 0 -5.2 0ZM1237.6 545.2a2.6 2.6 0 1 0 5.2 0a2.6 2.6 0 1 0 -5.2 0ZM1237.6 555.2a2.6 2.6 0 1 0 5.2 0a2.6 2.6 0 1 0 -5.2 0ZM1237.6 565.1a2.6 2.6 0 1 0 5.2 0a2.6 2.6 0 1 0 -5.2 0ZM1237.6 575.1a2.6 2.6 0 1 0 5.2 0a2.6 2.6 0 1 0 -5.2 0ZM1237.6 585.0a2.6 2.6 0 1 0 5.2 0a2.6 2.6 0 1 0 -5.2 0ZM1237.6 594.9a2.6 2.6 0 1 0 5.2 0a2.6 2.6 0 1 0 -5.2 0ZM1237.6 604.9a2.6 2.6 0 1 0 5.2 0a2.6 2.6 0 1 0 -5.2 0ZM1237.6 614.8a2.6 2.6 0 1 0 5.2 0a2.6 2.6 0 1 0 -5.2 0ZM1237.6 624.8a2.6 2.6 0 1 0 5.2 0a2.6 2.6 0 1 0 -5.2 0ZM1237.6 634.7a2.6 2.6 0 1 0 5.2 0a2.6 2.6 0 1 0 -5.2 0ZM1237.6 644.6a2.6 2.6 0 1 0 5.2 0a2.6 2.6 0 1 0 -5.2 0ZM1237.6 654.6a2.6 2.6 0 1 0 5.2 0a2.6 2.6 0 1 0 -5.2 0ZM1237.6 664.5a2.6 2.6 0 1 0 5.2 0a2.6 2.6 0 1 0 -5.2 0ZM1237.6 674.5a2.6 2.6 0 1 0 5.2 0a2.6 2.6 0 1 0 -5.2 0ZM1237.6 684.4a2.6 2.6 0 1 0 5.2 0a2.6 2.6 0 1 0 -5.2 0ZM1237.6 694.4a2.6 2.6 0 1 0 5.2 0a2.6 2.6 0 1 0 -5.2 0ZM1237.6 704.3a2.6 2.6 0 1 0 5.2 0a2.6 2.6 0 1 0 -5.2 0ZM1237.6 714.2a2.6 2.6 0 1 0 5.2 0a2.6 2.6 0 1 0 -5.2 0ZM1237.6 724.2a2.6 2.6 0 1 0 5.2 0a2.6 2.6 0 1 0 -5.2 0ZM1237.6 734.1a2.6 2.6 0 1 0 5.2 0a2.6 2.6 0 1 0 -5.2 0ZM1237.6 744.1a2.6 2.6 0 1 0 5.2 0a2.6 2.6 0 1 0 -5.2 0ZM1237.6 754.0a2.6 2.6 0 1 0 5.2 0a2.6 2.6 0 1 0 -5.2 0ZM315.7 783.3a2.6 2.6 0 1 0 5.2 0a2.6 2.6 0 1 0 -5.2 0ZM325.6 783.3a2.6 2.6 0 1 0 5.2 0a2.6 2.6 0 1 0 -5.2 0ZM335.5 783.3a2.6 2.6 0 1 0 5.2 0a2.6 2.6 0 1 0 -5.2 0ZM345.4 783.3a2.6 2.6 0 1 0 5.2 0a2.6 2.6 0 1 0 -5.2 0ZM355.3 783.3a2.6 2.6 0 1 0 5.2 0a2.6 2.6 0 1 0 -5.2 0ZM365.3 783.3a2.6 2.6 0 1 0 5.2 0a2.6 2.6 0 1 0 -5.2 0ZM375.2 783.3a2.6 2.6 0 1 0 5.2 0a2.6 2.6 0 1 0 -5.2 0ZM385.1 783.3a2.6 2.6 0 1 0 5.2 0a2.6 2.6 0 1 0 -5.2 0ZM395.0 783.3a2.6 2.6 0 1 0 5.2 0a2.6 2.6 0 1 0 -5.2 0ZM404.9 783.3a2.6 2.6 0 1 0 5.2 0a2.6 2.6 0 1 0 -5.2 0ZM414.8 783.3a2.6 2.6 0 1 0 5.2 0a2.6 2.6 0 1 0 -5.2 0ZM424.7 783.3a2.6 2.6 0 1 0 5.2 0a2.6 2.6 0 1 0 -5.2 0ZM434.6 783.3a2.6 2.6 0 1 0 5.2 0a2.6 2.6 0 1 0 -5.2 0ZM444.5 783.3a2.6 2.6 0 1 0 5.2 0a2.6 2.6 0 1 0 -5.2 0ZM454.5 783.3a2.6 2.6 0 1 0 5.2 0a2.6 2.6 0 1 0 -5.2 0ZM464.4 783.3a2.6 2.6 0 1 0 5.2 0a2.6 2.6 0 1 0 -5.2 0ZM474.3 783.3a2.6 2.6 0 1 0 5.2 0a2.6 2.6 0 1 0 -5.2 0ZM484.2 783.3a2.6 2.6 0 1 0 5.2 0a2.6 2.6 0 1 0 -5.2 0ZM494.1 783.3a2.6 2.6 0 1 0 5.2 0a2.6 2.6 0 1 0 -5.2 0ZM504.0 783.3a2.6 2.6 0 1 0 5.2 0a2.6 2.6 0 1 0 -5.2 0ZM513.9 783.3a2.6 2.6 0 1 0 5.2 0a2.6 2.6 0 1 0 -5.2 0ZM523.8 783.3a2.6 2.6 0 1 0 5.2 0a2.6 2.6 0 1 0 -5.2 0ZM533.7 783.3a2.6 2.6 0 1 0 5.2 0a2.6 2.6 0 1 0 -5.2 0ZM543.7 783.3a2.6 2.6 0 1 0 5.2 0a2.6 2.6 0 1 0 -5.2 0ZM553.6 783.3a2.6 2.6 0 1 0 5.2 0a2.6 2.6 0 1 0 -5.2 0ZM563.5 783.3a2.6 2.6 0 1 0 5.2 0a2.6 2.6 0 1 0 -5.2 0ZM573.4 783.3a2.6 2.6 0 1 0 5.2 0a2.6 2.6 0 1 0 -5.2 0ZM583.3 783.3a2.6 2.6 0 1 0 5.2 0a2.6 2.6 0 1 0 -5.2 0ZM593.2 783.3a2.6 2.6 0 1 0 5.2 0a2.6 2.6 0 1 0 -5.2 0ZM603.1 783.3a2.6 2.6 0 1 0 5.2 0a2.6 2.6 0 1 0 -5.2 0ZM613.0 783.3a2.6 2.6 0 1 0 5.2 0a2.6 2.6 0 1 0 -5.2 0ZM622.9 783.3a2.6 2.6 0 1 0 5.2 0a2.6 2.6 0 1 0 -5.2 0ZM632.9 783.3a2.6 2.6 0 1 0 5.2 0a2.6 2.6 0 1 0 -5.2 0ZM642.8 783.3a2.6 2.6 0 1 0 5.2 0a2.6 2.6 0 1 0 -5.2 0ZM652.7 783.3a2.6 2.6 0 1 0 5.2 0a2.6 2.6 0 1 0 -5.2 0ZM662.6 783.3a2.6 2.6 0 1 0 5.2 0a2.6 2.6 0 1 0 -5.2 0ZM672.5 783.3a2.6 2.6 0 1 0 5.2 0a2.6 2.6 0 1 0 -5.2 0ZM682.4 783.3a2.6 2.6 0 1 0 5.2 0a2.6 2.6 0 1 0 -5.2 0ZM692.3 783.3a2.6 2.6 0 1 0 5.2 0a2.6 2.6 0 1 0 -5.2 0ZM702.2 783.3a2.6 2.6 0 1 0 5.2 0a2.6 2.6 0 1 0 -5.2 0ZM712.1 783.3a2.6 2.6 0 1 0 5.2 0a2.6 2.6 0 1 0 -5.2 0ZM722.1 783.3a2.6 2.6 0 1 0 5.2 0a2.6 2.6 0 1 0 -5.2 0ZM732.0 783.3a2.6 2.6 0 1 0 5.2 0a2.6 2.6 0 1 0 -5.2 0ZM741.9 783.3a2.6 2.6 0 1 0 5.2 0a2.6 2.6 0 1 0 -5.2 0ZM751.8 783.3a2.6 2.6 0 1 0 5.2 0a2.6 2.6 0 1 0 -5.2 0ZM761.7 783.3a2.6 2.6 0 1 0 5.2 0a2.6 2.6 0 1 0 -5.2 0ZM771.6 783.3a2.6 2.6 0 1 0 5.2 0a2.6 2.6 0 1 0 -5.2 0ZM781.5 783.3a2.6 2.6 0 1 0 5.2 0a2.6 2.6 0 1 0 -5.2 0ZM791.4 783.3a2.6 2.6 0 1 0 5.2 0a2.6 2.6 0 1 0 -5.2 0ZM801.3 783.3a2.6 2.6 0 1 0 5.2 0a2.6 2.6 0 1 0 -5.2 0ZM811.3 783.3a2.6 2.6 0 1 0 5.2 0a2.6 2.6 0 1 0 -5.2 0ZM821.2 783.3a2.6 2.6 0 1 0 5.2 0a2.6 2.6 0 1 0 -5.2 0ZM831.1 783.3a2.6 2.6 0 1 0 5.2 0a2.6 2.6 0 1 0 -5.2 0ZM841.0 783.3a2.6 2.6 0 1 0 5.2 0a2.6 2.6 0 1 0 -5.2 0ZM850.9 783.3a2.6 2.6 0 1 0 5.2 0a2.6 2.6 0 1 0 -5.2 0ZM860.8 783.3a2.6 2.6 0 1 0 5.2 0a2.6 2.6 0 1 0 -5.2 0ZM870.7 783.3a2.6 2.6 0 1 0 5.2 0a2.6 2.6 0 1 0 -5.2 0ZM880.6 783.3a2.6 2.6 0 1 0 5.2 0a2.6 2.6 0 1 0 -5.2 0ZM890.5 783.3a2.6 2.6 0 1 0 5.2 0a2.6 2.6 0 1 0 -5.2 0ZM900.5 783.3a2.6 2.6 0 1 0 5.2 0a2.6 2.6 0 1 0 -5.2 0ZM910.4 783.3a2.6 2.6 0 1 0 5.2 0a2.6 2.6 0 1 0 -5.2 0ZM920.3 783.3a2.6 2.6 0 1 0 5.2 0a2.6 2.6 0 1 0 -5.2 0ZM930.2 783.3a2.6 2.6 0 1 0 5.2 0a2.6 2.6 0 1 0 -5.2 0ZM940.1 783.3a2.6 2.6 0 1 0 5.2 0a2.6 2.6 0 1 0 -5.2 0ZM950.0 783.3a2.6 2.6 0 1 0 5.2 0a2.6 2.6 0 1 0 -5.2 0ZM959.9 783.3a2.6 2.6 0 1 0 5.2 0a2.6 2.6 0 1 0 -5.2 0ZM969.8 783.3a2.6 2.6 0 1 0 5.2 0a2.6 2.6 0 1 0 -5.2 0ZM979.7 783.3a2.6 2.6 0 1 0 5.2 0a2.6 2.6 0 1 0 -5.2 0ZM989.7 783.3a2.6 2.6 0 1 0 5.2 0a2.6 2.6 0 1 0 -5.2 0ZM999.6 783.3a2.6 2.6 0 1 0 5.2 0a2.6 2.6 0 1 0 -5.2 0ZM1009.5 783.3a2.6 2.6 0 1 0 5.2 0a2.6 2.6 0 1 0 -5.2 0ZM1019.4 783.3a2.6 2.6 0 1 0 5.2 0a2.6 2.6 0 1 0 -5.2 0ZM1029.3 783.3a2.6 2.6 0 1 0 5.2 0a2.6 2.6 0 1 0 -5.2 0ZM1039.2 783.3a2.6 2.6 0 1 0 5.2 0a2.6 2.6 0 1 0 -5.2 0ZM1049.1 783.3a2.6 2.6 0 1 0 5.2 0a2.6 2.6 0 1 0 -5.2 0ZM1059.0 783.3a2.6 2.6 0 1 0 5.2 0a2.6 2.6 0 1 0 -5.2 0ZM1068.9 783.3a2.6 2.6 0 1 0 5.2 0a2.6 2.6 0 1 0 -5.2 0ZM1078.9 783.3a2.6 2.6 0 1 0 5.2 0a2.6 2.6 0 1 0 -5.2 0ZM1088.8 783.3a2.6 2.6 0 1 0 5.2 0a2.6 2.6 0 1 0 -5.2 0ZM1098.7 783.3a2.6 2.6 0 1 0 5.2 0a2.6 2.6 0 1 0 -5.2 0ZM1108.6 783.3a2.6 2.6 0 1 0 5.2 0a2.6 2.6 0 1 0 -5.2 0ZM1118.5 783.3a2.6 2.6 0 1 0 5.2 0a2.6 2.6 0 1 0 -5.2 0ZM1128.4 783.3a2.6 2.6 0 1 0 5.2 0a2.6 2.6 0 1 0 -5.2 0ZM1138.3 783.3a2.6 2.6 0 1 0 5.2 0a2.6 2.6 0 1 0 -5.2 0ZM1148.2 783.3a2.6 2.6 0 1 0 5.2 0a2.6 2.6 0 1 0 -5.2 0ZM1158.1 783.3a2.6 2.6 0 1 0 5.2 0a2.6 2.6 0 1 0 -5.2 0ZM1168.1 783.3a2.6 2.6 0 1 0 5.2 0a2.6 2.6 0 1 0 -5.2 0ZM1178.0 783.3a2.6 2.6 0 1 0 5.2 0a2.6 2.6 0 1 0 -5.2 0ZM1187.9 783.3a2.6 2.6 0 1 0 5.2 0a2.6 2.6 0 1 0 -5.2 0ZM1197.8 783.3a2.6 2.6 0 1 0 5.2 0a2.6 2.6 0 1 0 -5.2 0ZM1207.7 783.3a2.6 2.6 0 1 0 5.2 0a2.6 2.6 0 1 0 -5.2 0ZM233.7 452.4a2.6 2.6 0 1 0 5.2 0a2.6 2.6 0 1 0 -5.2 0ZM233.7 462.0a2.6 2.6 0 1 0 5.2 0a2.6 2.6 0 1 0 -5.2 0ZM233.7 471.5a2.6 2.6 0 1 0 5.2 0a2.6 2.6 0 1 0 -5.2 0ZM233.7 481.1a2.6 2.6 0 1 0 5.2 0a2.6 2.6 0 1 0 -5.2 0ZM233.7 490.7a2.6 2.6 0 1 0 5.2 0a2.6 2.6 0 1 0 -5.2 0ZM233.7 500.2a2.6 2.6 0 1 0 5.2 0a2.6 2.6 0 1 0 -5.2 0ZM233.7 509.8a2.6 2.6 0 1 0 5.2 0a2.6 2.6 0 1 0 -5.2 0ZM244.8 509.8a2.6 2.6 0 1 0 5.2 0a2.6 2.6 0 1 0 -5.2 0ZM255.8 509.8a2.6 2.6 0 1 0 5.2 0a2.6 2.6 0 1 0 -5.2 0ZM255.8 519.4a2.6 2.6 0 1 0 5.2 0a2.6 2.6 0 1 0 -5.2 0ZM255.8 528.9a2.6 2.6 0 1 0 5.2 0a2.6 2.6 0 1 0 -5.2 0ZM255.8 538.4a2.6 2.6 0 1 0 5.2 0a2.6 2.6 0 1 0 -5.2 0ZM255.8 547.8a2.6 2.6 0 1 0 5.2 0a2.6 2.6 0 1 0 -5.2 0ZM255.8 557.3a2.6 2.6 0 1 0 5.2 0a2.6 2.6 0 1 0 -5.2 0ZM255.8 566.8a2.6 2.6 0 1 0 5.2 0a2.6 2.6 0 1 0 -5.2 0ZM267.2 667.2a2.6 2.6 0 1 0 5.2 0a2.6 2.6 0 1 0 -5.2 0ZM276.9 667.2a2.6 2.6 0 1 0 5.2 0a2.6 2.6 0 1 0 -5.2 0ZM286.6 667.2a2.6 2.6 0 1 0 5.2 0a2.6 2.6 0 1 0 -5.2 0ZM296.3 667.2a2.6 2.6 0 1 0 5.2 0a2.6 2.6 0 1 0 -5.2 0ZM306.0 667.2a2.6 2.6 0 1 0 5.2 0a2.6 2.6 0 1 0 -5.2 0ZM315.7 667.2a2.6 2.6 0 1 0 5.2 0a2.6 2.6 0 1 0 -5.2 0ZM315.7 676.9a2.6 2.6 0 1 0 5.2 0a2.6 2.6 0 1 0 -5.2 0ZM315.7 686.6a2.6 2.6 0 1 0 5.2 0a2.6 2.6 0 1 0 -5.2 0ZM315.7 696.2a2.6 2.6 0 1 0 5.2 0a2.6 2.6 0 1 0 -5.2 0ZM315.7 705.9a2.6 2.6 0 1 0 5.2 0a2.6 2.6 0 1 0 -5.2 0ZM315.7 715.6a2.6 2.6 0 1 0 5.2 0a2.6 2.6 0 1 0 -5.2 0ZM315.7 725.2a2.6 2.6 0 1 0 5.2 0a2.6 2.6 0 1 0 -5.2 0ZM315.7 734.9a2.6 2.6 0 1 0 5.2 0a2.6 2.6 0 1 0 -5.2 0ZM315.7 744.6a2.6 2.6 0 1 0 5.2 0a2.6 2.6 0 1 0 -5.2 0ZM315.7 754.3a2.6 2.6 0 1 0 5.2 0a2.6 2.6 0 1 0 -5.2 0ZM315.7 763.9a2.6 2.6 0 1 0 5.2 0a2.6 2.6 0 1 0 -5.2 0ZM315.7 773.6a2.6 2.6 0 1 0 5.2 0a2.6 2.6 0 1 0 -5.2 0Z" fill="#62b87a"/>
<path d="M220 398.6h33a5 5 0 0 1 5 5v33a5 5 0 0 1 -5 5h-14l-2.5 3l-2.5 -3h-14a5 5 0 0 1 -5 -5v-33a5 5 0 0 1 5 -5Z" fill="#50b47d"/><circle cx="236.5" cy="420.1" r="11.8" fill="#96d282"/><circle cx="231.1" cy="420.1" r="1.7" fill="#6ab06a"/><circle cx="241.9" cy="420.1" r="1.7" fill="#6ab06a"/>
<path d="M945.7 399h33a5 5 0 0 1 5 5v33a5 5 0 0 1 -5 5h-33a5 5 0 0 1 -5 -5v-33a5 5 0 0 1 5 -5Z" fill="#50b47d"/><circle cx="962.2" cy="420.5" r="11.8" fill="#96d282"/><circle cx="956.8" cy="420.5" r="1.7" fill="#6ab06a"/><circle cx="967.6" cy="420.5" r="1.7" fill="#6ab06a"/>
<path d="M1223.8 762h14l2.5 -3l2.5 3h14a5 5 0 0 1 5 5v33a5 5 0 0 1 -5 5h-33a5 5 0 0 1 -5 -5v-33a5 5 0 0 1 5 -5Z" fill="#50b47d"/><circle cx="1240.3" cy="783.5" r="11.8" fill="#96d282"/><circle cx="1234.9" cy="783.5" r="1.7" fill="#6ab06a"/><circle cx="1245.7" cy="783.5" r="1.7" fill="#6ab06a"/></g></g>
</g>
<g id="house">
<path d="M98.0 461.6 L587.7 69.8 L1380.0 289.2 L1376.4 309.0 L1303.0 291.0 L1277.6 285.3 L592.0 104.1 L190.9 415.0 L165.4 436.2 L111.6 478.4Z" fill="none" stroke="#b9f1f0" stroke-opacity="0.45" stroke-width="2" stroke-linejoin="round"/>
<path d="M165.5 430.0 L190.9 410.0 L191.8 850.0 L163.3 850.0Z" fill="none" stroke="#b9f1f0" stroke-opacity="0.45" stroke-width="2" stroke-linejoin="round"/>
<path d="M1277.6 280.0 L1302.9 286.0 L1303.4 850.0 L1276.1 850.0Z" fill="none" stroke="#b9f1f0" stroke-opacity="0.45" stroke-width="2" stroke-linejoin="round"/>
<path d="M175.0 474.2H1290.0V498.0H175.0Z" fill="none" stroke="#b9f1f0" stroke-opacity="0.45" stroke-width="2" stroke-linejoin="round"/>
<path d="M539.2 497.0H564.6V838.0H539.2Z" fill="none" stroke="#b9f1f0" stroke-opacity="0.45" stroke-width="2" stroke-linejoin="round"/>
<path d="M163.3 837.3 L1303.4 837.3 L1303.4 864.9 L163.3 864.9Z" fill="none" stroke="#b9f1f0" stroke-opacity="0.45" stroke-width="2" stroke-linejoin="round"/>
<path d="M98.0 461.6 L587.7 69.8 L1380.0 289.2 L1376.4 309.0 L1303.0 291.0 L1277.6 285.3 L592.0 104.1 L190.9 415.0 L165.4 436.2 L111.6 478.4Z" fill="#00b3ef"/>
<path d="M165.5 430.0 L190.9 410.0 L191.8 850.0 L163.3 850.0Z" fill="#00b3ef"/>
<path d="M1277.6 280.0 L1302.9 286.0 L1303.4 850.0 L1276.1 850.0Z" fill="#00b3ef"/>
<path d="M175.0 474.2H1290.0V498.0H175.0Z" fill="#00b3ef"/>
<path d="M539.2 497.0H564.6V838.0H539.2Z" fill="#00b3ef"/>
<path d="M163.3 837.3 L1303.4 837.3 L1303.4 864.9 L163.3 864.9Z" fill="#00b3ef"/>
</g>
<g id="dev">
<path d="M383.1 338.9A14.8 14.8 0 0 1 403.1 338.9M375.7 331.3A25.1 25.1 0 0 1 410.5 331.3M368.1 323.7A37.9 37.9 0 0 1 418.1 323.7" fill="none" stroke="#56b330" stroke-width="4.7" stroke-linecap="round"/><circle cx="393.1" cy="346.5" r="3.8" fill="#56b330"/>
<path d="M1028.4 297.4A14.8 14.8 0 0 1 1048.4 297.4M1021.0 289.8A25.1 25.1 0 0 1 1055.8 289.8M1013.4 282.2A37.9 37.9 0 0 1 1063.4 282.2" fill="none" stroke="#56b330" stroke-width="4.7" stroke-linecap="round"/><circle cx="1038.4" cy="305.0" r="3.8" fill="#56b330"/>
<path d="M1229.8 317.8A14.8 14.8 0 0 1 1249.8 317.8M1222.4 310.2A25.1 25.1 0 0 1 1257.2 310.2M1214.8 302.6A37.9 37.9 0 0 1 1264.8 302.6" fill="none" stroke="#56b330" stroke-width="4.7" stroke-linecap="round"/><circle cx="1239.8" cy="325.4" r="3.8" fill="#56b330"/>
<path d="M249.5 722.0A14.8 14.8 0 0 1 269.5 722.0M242.1 714.4A25.1 25.1 0 0 1 276.9 714.4M234.5 706.8A37.9 37.9 0 0 1 284.5 706.8" fill="none" stroke="#56b330" stroke-width="4.7" stroke-linecap="round"/><circle cx="259.5" cy="729.6" r="3.8" fill="#56b330"/>
<path d="M712.0 671.8A14.8 14.8 0 0 1 732.0 671.8M704.6 664.2A25.1 25.1 0 0 1 739.4 664.2M697.0 656.6A37.9 37.9 0 0 1 747.0 656.6" fill="none" stroke="#56b330" stroke-width="4.7" stroke-linecap="round"/><circle cx="722.0" cy="679.4" r="3.8" fill="#56b330"/>
<path d="M1093.6 566.4A14.8 14.8 0 0 1 1113.6 566.4M1086.2 558.8A25.1 25.1 0 0 1 1121.0 558.8M1078.6 551.2A37.9 37.9 0 0 1 1128.6 551.2" fill="none" stroke="#56b330" stroke-width="4.7" stroke-linecap="round"/><circle cx="1103.6" cy="574.0" r="3.8" fill="#56b330"/>
<path d="M1112.4 358.4H1156.0V386.0H1112.4Z" fill="#b4d890"/>
<path d="M369.8 362.2H422.2V400.4H369.8Z M401.0 353.6L413.0 362.0 M416 381A10.4 10.4 0 1 0 395.2 381A10.4 10.4 0 1 0 416 381Z M375.6 373.6L389.6 373.6 M375.6 381.0L389.6 381.0 M375.6 388.6L389.6 388.6 M1002.0 362.4 L1002.0 318.0 L1074.4 318.0 L1074.4 362.4 M1009.6 362.4 L1009.6 328.6 L1067.4 328.6 L1067.4 362.4 M997.6 362.4 L1027.6 362.4 L1028.4 366.0 L1047.4 366.0 L1048.0 362.4 L1079.0 362.4 L1077.0 372.6 L1000.0 372.6Z M1112.4 336.4 L1112.4 322.4 L1156.0 322.4 L1156.0 336.4 M1112.4 372.6 L1096.6 372.6 L1094.6 336.4 L1173.6 336.4 L1171.6 372.6 L1156.0 372.6 M1112.4 358.4H1156.0V386.0H1112.4Z M1121.6 367.4L1147.0 367.4 M1121.6 377.4L1147.0 377.4 M1091.8 604.5V598.4A12 12 0 0 1 1115.8 598.4V604.5 M1096.8 604.4V616.9H1093.4A6.2 6.2 0 0 1 1093.4 604.4Z M1111 604.4V616.9H1114.4A6.2 6.2 0 0 0 1114.4 604.4Z" fill="none" stroke="#2c4a29" stroke-width="2.4" stroke-linejoin="miter"/>
<path d="M773.4 542.0 L953.6 542.0 L950.6 660.4 L776.6 660.4Z" fill="none" stroke="#2c4a29" stroke-width="1.6"/>
<path d="M784.4 552.0H942.4V639.4H784.4Z" fill="none" stroke="#2c4a29" stroke-width="2.1"/>
<circle cx="1038.4" cy="323.6" r="1.5" fill="#2c4a29"/><circle cx="1154.6" cy="345.4" r="1.9" fill="#2c4a29"/><circle cx="1164.8" cy="345.4" r="1.9" fill="#2c4a29"/><circle cx="906.6" cy="650.4" r="1.9" fill="#2c4a29"/><circle cx="916.8" cy="650.4" r="1.9" fill="#2c4a29"/><circle cx="927.2" cy="650.4" r="1.9" fill="#2c4a29"/>
<path d="M1134.0 386.0 L1134.0 407.0 L1240.4 407.0 L1240.4 381.0 M919.2 660.4 L919.2 772.0 L722.4 772.0 L722.4 734.0 M260.2 655.0 L260.2 684.0 L299.3 684.0 L299.3 744.3 L258.4 744.3 L258.4 778.0" fill="none" stroke="#023d51" stroke-width="4.1" stroke-linejoin="miter"/>
<rect x="1219.4" y="338.6" width="43.2" height="43.4" rx="4.5" fill="#023d51"/><circle cx="1235.6" cy="367.2" r="2.7" fill="#8eaabb"/><circle cx="1245.4" cy="367.2" r="2.7" fill="#a9c0d6"/>
<rect x="701" y="692" width="43.2" height="43.4" rx="4.5" fill="#023d51"/><circle cx="717.2" cy="720.6" r="2.7" fill="#8eaabb"/><circle cx="727.0" cy="720.6" r="2.7" fill="#a9c0d6"/>
<rect x="238.4" y="569.2" width="43.7" height="87.6" rx="4.5" fill="#023d51"/>
<circle cx="260.2" cy="587.9" r="11.8" fill="#b4c8b0"/>
<circle cx="254.7" cy="587.9" r="1.9" fill="#11303a"/><circle cx="265.6" cy="587.9" r="1.9" fill="#11303a"/>
<circle cx="260.2" cy="643.2" r="3" fill="#9fb9c8"/>
<rect x="221.8" y="775.9" width="76.2" height="24.9" rx="5.5" fill="#023d51"/>
<path d="M232.6 798H247V804.5H232.6ZM271.1 798H285.8V804.5H271.1Z" fill="#023d51"/>
<path d="M234.5 760.2L236.6 777M285.1 760.2L283.2 777" stroke="#023d51" stroke-width="3" fill="none"/>
<circle cx="234.5" cy="760.2" r="3.7" fill="#023d51"/><circle cx="285.1" cy="760.2" r="3.7" fill="#023d51"/>
<circle cx="263.2" cy="788.2" r="2.2" fill="#9fb9c8"/><circle cx="274.6" cy="788.2" r="2.2" fill="#9fb9c8"/><circle cx="286.2" cy="788.2" r="2.2" fill="#9fb9c8"/>
</g>
</svg>
</body></html>
